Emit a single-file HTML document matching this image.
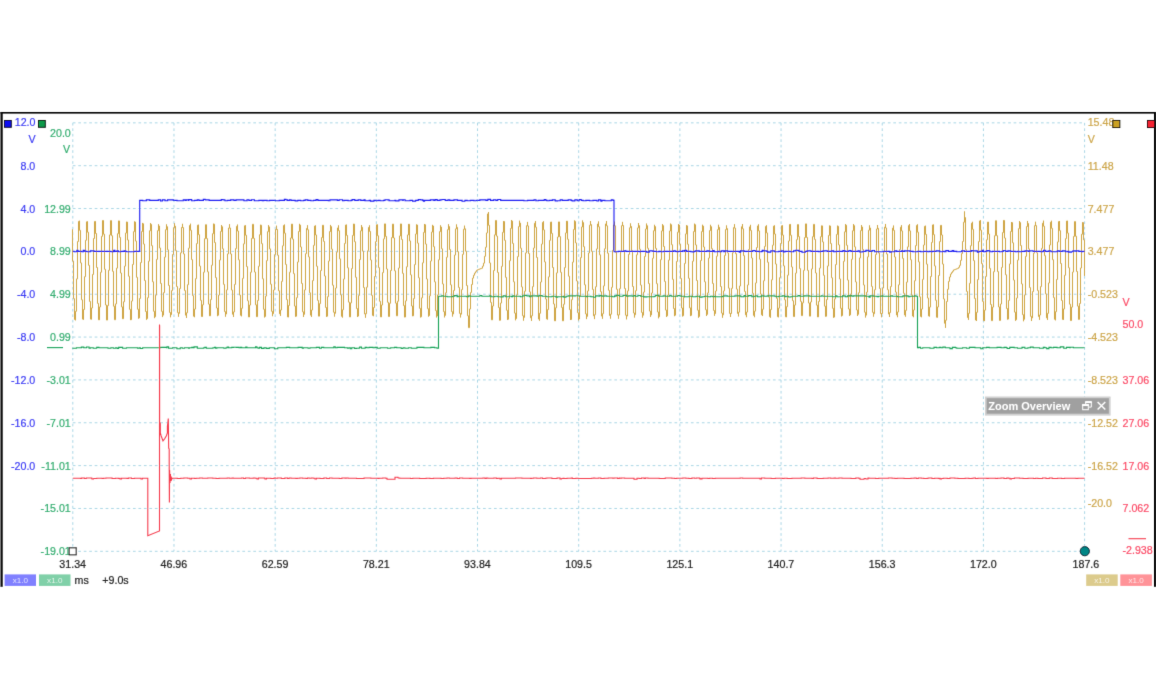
<!DOCTYPE html>
<html><head><meta charset="utf-8"><title>Scope</title>
<style>
html,body{margin:0;padding:0;background:#fff;}
body{width:1156px;height:700px;overflow:hidden;position:relative;}
svg{position:absolute;left:0;top:0;display:block;}
#wrap{position:absolute;left:0;top:0;width:1156px;height:700px;}
text{font-family:"Liberation Sans",Arial,sans-serif;}
</style></head>
<body>
<div id="wrap">
<svg width="1156" height="700" viewBox="0 0 1156 700">
<defs><filter id="soft" x="0" y="0" width="100%" height="100%" filterUnits="userSpaceOnUse"><feConvolveMatrix order="3" kernelMatrix="0.0100 0.0800 0.0100 0.0800 0.6400 0.0800 0.0100 0.0800 0.0100" edgeMode="none"/></filter></defs>
<rect width="1156" height="700" fill="#fff"/>
<g filter="url(#soft)">
<path d="M72.8 122.85V551.3M173.98 122.85V551.3M275.16 122.85V551.3M376.34 122.85V551.3M477.52 122.85V551.3M578.7 122.85V551.3M679.88 122.85V551.3M781.06 122.85V551.3M882.24 122.85V551.3M983.42 122.85V551.3M1084.6 122.85V551.3M72.8 122.85H1084.6M72.8 165.69H1084.6M72.8 208.54H1084.6M72.8 251.38H1084.6M72.8 294.23H1084.6M72.8 337.07H1084.6M72.8 379.92H1084.6M72.8 422.76H1084.6M72.8 465.61H1084.6M72.8 508.46H1084.6M72.8 551.3H1084.6" stroke="#a9d6e5" stroke-width="1" stroke-dasharray="2.7 2.77" fill="none"/>
<path d="M72.5 229.18 72.5 261.13 73.5 261.13 73.5 298.66 74.5 298.66 74.5 319.5 75.5 319.5 75.5 320.29 75.5 311.29 76.5 311.29 76.5 278.89 77.5 278.89 77.5 241.54 78.5 241.54 78.5 221.39 79.5 221.39 79.5 220.79 79.5 230.33 80.5 230.33 80.5 262.91 81.5 262.91 81.5 299.81 82.5 299.81 82.5 319.12 83.5 319.12 83.5 319.58 83.5 309.46 84.5 309.46 84.5 276.7 85.5 276.7 85.5 240.28 86.5 240.28 86.5 221.81 87.5 221.81 87.5 221.49 87.5 232.22 88.5 232.22 88.5 265.3 89.5 265.3 89.5 301.42 90.5 301.42 90.5 319.15 91.5 319.15 91.5 319.35 91.5 307.95 92.5 307.95 92.5 274.44 93.5 274.44 93.5 238.51 94.5 238.51 94.5 221.46 95.5 221.46 95.5 221.33 95.5 233.49 96.5 233.49 96.5 267.53 97.5 267.53 97.5 303.4 98.5 303.4 98.5 319.81 99.5 319.81 99.5 319.87 99.5 306.91 100.5 306.91 100.5 272.22 101.5 272.22 101.5 236.32 102.5 236.32 102.5 220.51 103.5 220.51 103.5 234.2 104.5 234.2 104.5 269.28 105.5 269.28 105.5 304.95 106.5 304.95 106.5 320.04 107.5 320.04 107.5 305.61 108.5 305.61 108.5 270.25 109.5 270.25 109.5 234.93 110.5 234.93 110.5 220.61 111.5 220.61 111.5 235.74 112.5 235.74 112.5 271.3 113.5 271.3 113.5 306.19 114.5 306.19 114.5 319.71 115.5 319.71 115.5 303.88 116.5 303.88 116.5 268.13 117.5 268.13 117.5 233.67 118.5 233.67 118.5 220.88 118.5 220.95 119.5 220.95 119.5 237.37 120.5 237.37 120.5 273.06 121.5 273.06 121.5 306.86 122.5 306.86 122.5 318.84 122.5 318.7 123.5 318.7 123.5 301.74 124.5 301.74 124.5 266.15 125.5 266.15 125.5 233.05 126.5 233.05 126.5 221.88 126.5 222.09 127.5 222.09 127.5 239.97 128.5 239.97 128.5 276.24 129.5 276.24 129.5 309.37 130.5 309.37 130.5 320.04 130.5 319.7 131.5 319.7 131.5 301.06 132.5 301.06 132.5 264.46 133.5 264.46 133.5 231.64 134.5 231.64 134.5 221.58 134.5 222.05 135.5 222.05 135.5 241.09 136.5 241.09 136.5 277.32 137.5 277.32 137.5 309.23 138.5 309.23 138.5 318.5 138.5 317.9 139.5 317.9 139.5 298.46 140.5 298.46 140.5 262.56 141.5 262.56 141.5 231.51 142.5 231.51 142.5 222.95 142.5 223.74 143.5 223.74 143.5 244.08 144.5 244.08 144.5 280.55 145.5 280.55 145.5 311.52 146.5 311.52 146.5 319.61 146.5 318.61 147.5 318.61 147.5 297.68 148.5 297.68 148.5 261.16 149.5 261.16 149.5 230.72 150.5 230.72 150.5 223.23 150.5 224.41 151.5 224.41 151.5 245.67 152.5 245.67 152.5 281.76 153.5 281.76 153.5 311.27 154.5 311.27 154.5 318.12 154.5 316.72 155.5 316.72 155.5 295.1 156.5 295.1 156.5 259.34 157.5 259.34 157.5 230.65 158.5 230.65 158.5 224.38 158.5 226.03 159.5 226.03 159.5 248 160.5 248 160.5 283.45 161.5 283.45 161.5 311.35 162.5 311.35 162.5 317.05 162.5 315.15 163.5 315.15 163.5 292.61 164.5 292.61 164.5 257.11 165.5 257.11 165.5 229.71 166.5 229.71 166.5 224.48 166.5 226.68 167.5 226.68 167.5 249.85 168.5 249.85 168.5 285.47 169.5 285.47 169.5 312.42 170.5 312.42 170.5 317.23 170.5 314.67 171.5 314.67 171.5 290.64 172.5 290.64 172.5 254.52 173.5 254.52 173.5 227.75 174.5 227.75 174.5 223.33 174.5 226.19 175.5 226.19 175.5 250.63 176.5 250.63 176.5 286.54 177.5 286.54 177.5 312.62 178.5 312.62 178.5 316.6 178.5 313.4 179.5 313.4 179.5 288.55 180.5 288.55 180.5 252.83 181.5 252.83 181.5 227.44 182.5 227.44 182.5 223.86 182.5 227.59 183.5 227.59 183.5 253.94 184.5 253.94 184.5 290.59 185.5 290.59 185.5 315.19 186.5 315.19 186.5 317.79 186.5 312.74 187.5 312.74 187.5 284.71 188.5 284.71 188.5 248.18 189.5 248.18 189.5 225.44 190.5 225.44 190.5 223.77 190.5 230.28 191.5 230.28 191.5 259.64 192.5 259.64 192.5 295.59 193.5 295.59 193.5 316.22 194.5 316.22 194.5 317.16 194.5 309.05 195.5 309.05 195.5 278.66 196.5 278.66 196.5 243.59 197.5 243.59 197.5 225.21 198.5 225.21 198.5 224.8 198.5 234.68 199.5 234.68 199.5 266.12 200.5 266.12 200.5 300.35 201.5 300.35 201.5 316.52 202.5 316.52 202.5 316.62 202.5 304.75 203.5 304.75 203.5 272.2 204.5 272.2 204.5 238.71 205.5 238.71 205.5 224.7 206.5 224.7 206.5 238.61 207.5 238.61 207.5 271.83 208.5 271.83 208.5 304.13 209.5 304.13 209.5 315.92 209.5 315.81 210.5 315.81 210.5 299.59 211.5 299.59 211.5 265.24 212.5 265.24 212.5 233.7 213.5 233.7 213.5 223.79 213.5 224.2 214.5 224.2 214.5 242.57 215.5 242.57 215.5 277.65 216.5 277.65 216.5 308.04 217.5 308.04 217.5 316.14 217.5 315.23 218.5 315.23 218.5 295.11 219.5 295.11 219.5 260.05 220.5 260.05 220.5 231.43 221.5 231.43 221.5 225.07 221.5 226.7 222.5 226.7 222.5 248.83 223.5 248.83 223.5 284.36 224.5 284.36 224.5 311.63 225.5 311.63 225.5 316.55 225.5 314 226.5 314 226.5 289.86 227.5 289.86 227.5 253.89 228.5 253.89 228.5 228.02 229.5 228.02 229.5 224.37 229.5 228.04 230.5 228.04 230.5 253.98 231.5 253.98 231.5 290.06 232.5 290.06 232.5 314.27 233.5 314.27 233.5 316.83 233.5 311.88 234.5 311.88 234.5 284.4 235.5 284.4 235.5 248.6 236.5 248.6 236.5 226.3 237.5 226.3 237.5 224.66 237.5 231.06 238.5 231.06 238.5 259.84 239.5 259.84 239.5 295.09 240.5 295.09 240.5 315.32 241.5 315.32 241.5 316.24 241.5 308.26 242.5 308.26 242.5 278.36 243.5 278.36 243.5 243.85 244.5 243.85 244.5 225.77 245.5 225.77 245.5 225.36 245.5 235.22 246.5 235.22 246.5 266.61 247.5 266.61 247.5 300.78 248.5 300.78 248.5 316.92 249.5 316.92 249.5 317.03 249.5 305.04 250.5 305.04 250.5 272.2 251.5 272.2 251.5 238.41 252.5 238.41 252.5 224.27 253.5 224.27 253.5 238.37 254.5 238.37 254.5 272.06 255.5 272.06 255.5 304.82 256.5 304.82 256.5 316.77 256.5 316.67 257.5 316.67 257.5 300.48 258.5 300.48 258.5 266.2 259.5 266.2 259.5 234.73 260.5 234.73 260.5 224.84 260.5 225.25 261.5 225.25 261.5 243.66 262.5 243.66 262.5 278.8 263.5 278.8 263.5 309.24 264.5 309.24 264.5 317.36 264.5 316.44 265.5 316.44 265.5 296.09 266.5 296.09 266.5 260.63 267.5 260.63 267.5 231.68 268.5 231.68 268.5 225.25 268.5 226.87 269.5 226.87 269.5 248.87 270.5 248.87 270.5 284.19 271.5 284.19 271.5 311.3 272.5 311.3 272.5 316.18 272.5 313.68 273.5 313.68 273.5 290 274.5 290 274.5 254.72 275.5 254.72 275.5 229.34 276.5 229.34 276.5 225.75 276.5 229.42 277.5 229.42 277.5 255.23 278.5 255.23 278.5 290.76 279.5 290.76 279.5 313.83 280.5 313.83 280.5 315.82 280.5 309.99 281.5 309.99 281.5 281.37 282.5 281.37 282.5 245.81 283.5 245.81 283.5 225.48 284.5 225.48 284.5 224.63 284.5 233.19 285.5 233.19 285.5 264.4 286.5 264.4 286.5 299.64 287.5 299.64 287.5 316.94 288.5 316.94 288.5 317.11 288.5 305.44 289.5 305.44 289.5 272.21 290.5 272.21 290.5 237.98 291.5 237.98 291.5 224.11 292.5 224.11 292.5 239.16 293.5 239.16 293.5 273.66 294.5 273.66 294.5 306.09 295.5 306.09 295.5 316.58 295.5 316.22 296.5 316.22 296.5 297.68 297.5 297.68 297.5 262.02 298.5 262.02 298.5 231.48 299.5 231.48 299.5 223.89 299.5 225.11 300.5 225.11 300.5 246.97 301.5 246.97 301.5 283.45 302.5 283.45 302.5 311.79 303.5 311.79 303.5 316.94 303.5 314.36 304.5 314.36 304.5 289.88 305.5 289.88 305.5 253.7 306.5 253.7 306.5 228.4 307.5 228.4 307.5 225.35 307.5 229.75 308.5 229.75 308.5 256.86 309.5 256.86 309.5 292.81 310.5 292.81 310.5 315.18 311.5 315.18 311.5 316.75 311.5 310.03 312.5 310.03 312.5 280.62 313.5 280.62 313.5 245.3 314.5 245.3 314.5 226.1 315.5 226.1 315.5 225.56 315.5 234.96 316.5 234.96 316.5 266.23 317.5 266.23 317.5 300.4 318.5 300.4 318.5 316.17 319.5 316.17 319.5 303.64 320.5 303.64 320.5 270.57 321.5 270.57 321.5 237.58 322.5 237.58 322.5 225.19 322.5 225.26 323.5 225.26 323.5 241.39 324.5 241.39 324.5 275.99 325.5 275.99 325.5 307.46 326.5 307.46 326.5 316.77 326.5 316.19 327.5 316.19 327.5 296.67 328.5 296.67 328.5 261.06 329.5 261.06 329.5 231.57 330.5 231.57 330.5 224.96 330.5 226.6 331.5 226.6 331.5 249.18 332.5 249.18 332.5 285.21 333.5 285.21 333.5 312.21 334.5 312.21 334.5 316.49 334.5 313.35 335.5 313.35 335.5 288.05 336.5 288.05 336.5 252.11 337.5 252.11 337.5 227.95 338.5 227.95 338.5 225.48 338.5 230.7 339.5 230.7 339.5 258.86 340.5 258.86 340.5 294.9 341.5 294.9 341.5 316.33 342.5 316.33 342.5 317.48 342.5 309.72 343.5 309.72 343.5 279.04 344.5 279.04 344.5 243.42 345.5 243.42 345.5 225.07 346.5 225.07 346.5 224.75 346.5 235.39 347.5 235.39 347.5 267.82 348.5 267.82 348.5 302.13 349.5 302.13 349.5 316.92 350.5 316.92 350.5 302.84 351.5 302.84 351.5 268.54 352.5 268.54 352.5 235.41 353.5 235.41 353.5 223.94 353.5 224.13 354.5 224.13 354.5 241.74 355.5 241.74 355.5 277.27 356.5 277.27 356.5 308.55 357.5 308.55 357.5 317 357.5 316.09 358.5 316.09 358.5 295.42 359.5 295.42 359.5 259.55 360.5 259.55 360.5 230.85 361.5 230.85 361.5 225.12 361.5 227.24 362.5 227.24 362.5 251.11 363.5 251.11 363.5 287.59 364.5 287.59 364.5 313.94 365.5 313.94 365.5 317.59 365.5 313.73 366.5 313.73 366.5 287.17 367.5 287.17 367.5 250.84 368.5 250.84 368.5 227.41 369.5 227.41 369.5 225.46 369.5 231.4 370.5 231.4 370.5 260 371.5 260 371.5 295.34 372.5 295.34 372.5 315.38 373.5 315.38 373.5 316.16 373.5 307.52 374.5 307.52 374.5 276.5 375.5 276.5 375.5 241.66 376.5 241.66 376.5 224.72 377.5 224.72 377.5 224.58 377.5 235.78 378.5 235.78 378.5 267.6 379.5 267.6 379.5 301.29 380.5 301.29 380.5 316.86 381.5 316.86 381.5 316.94 381.5 304.97 382.5 304.97 382.5 272.57 383.5 272.57 383.5 238.87 384.5 238.87 384.5 223.88 385.5 223.88 385.5 236.43 386.5 236.43 386.5 269.02 387.5 269.02 387.5 302.3 388.5 302.3 388.5 316.52 389.5 316.52 389.5 303.29 390.5 303.29 390.5 270.5 391.5 270.5 391.5 237.61 392.5 237.61 392.5 224.14 393.5 224.14 393.5 237.98 394.5 237.98 394.5 270.81 395.5 270.81 395.5 303.15 396.5 303.15 396.5 315.82 397.5 315.82 397.5 301.24 398.5 301.24 398.5 268.06 399.5 268.06 399.5 235.95 400.5 235.95 400.5 223.92 400.5 223.98 401.5 223.98 401.5 239.46 402.5 239.46 402.5 273.37 403.5 273.37 403.5 305.6 404.5 305.6 404.5 317.14 404.5 317.02 405.5 317.02 405.5 300.87 406.5 300.87 406.5 266.75 407.5 266.75 407.5 234.92 408.5 234.92 408.5 224.08 408.5 224.26 409.5 224.26 409.5 240.91 410.5 240.91 410.5 274.87 411.5 274.87 411.5 305.98 412.5 305.98 412.5 316.09 412.5 315.79 413.5 315.79 413.5 298.57 414.5 298.57 414.5 264.6 415.5 264.6 415.5 234.03 416.5 234.03 416.5 224.58 416.5 225.01 417.5 225.01 417.5 243.14 418.5 243.14 418.5 277.77 419.5 277.77 419.5 308.37 420.5 308.37 420.5 317.33 420.5 316.76 421.5 316.76 421.5 297.85 422.5 297.85 422.5 262.8 423.5 262.8 423.5 232.41 424.5 232.41 424.5 223.97 424.5 224.71 425.5 224.71 425.5 244.09 426.5 244.09 426.5 278.99 427.5 278.99 427.5 308.69 428.5 308.69 428.5 316.5 428.5 315.57 429.5 315.57 429.5 295.75 430.5 295.75 430.5 261.06 431.5 261.06 431.5 232.09 432.5 232.09 432.5 224.91 432.5 226.04 433.5 226.04 433.5 246.69 434.5 246.69 434.5 281.84 435.5 281.84 435.5 310.64 436.5 310.64 436.5 317.36 436.5 316 437.5 316 437.5 294.86 438.5 294.86 438.5 259.8 439.5 259.8 439.5 231.62 440.5 231.62 440.5 225.44 440.5 227.05 441.5 227.05 441.5 248.79 442.5 248.79 442.5 283.94 443.5 283.94 443.5 311.63 444.5 311.63 444.5 317.31 444.5 315.42 445.5 315.42 445.5 292.82 446.5 292.82 446.5 257.18 447.5 257.18 447.5 229.65 448.5 229.65 448.5 224.37 448.5 226.54 449.5 226.54 449.5 249.51 450.5 249.51 450.5 284.87 451.5 284.87 451.5 311.64 452.5 311.64 452.5 316.43 452.5 313.94 453.5 313.94 453.5 290.44 454.5 290.44 454.5 255.08 455.5 255.08 455.5 228.87 456.5 228.87 456.5 224.53 456.5 227.37 457.5 227.37 457.5 251.68 458.5 251.68 458.5 287.43 459.5 287.43 459.5 313.39 460.5 313.39 460.5 317.36 460.5 314.2 461.5 314.2 461.5 289.65 462.5 289.65 462.5 254.35 463.5 254.35 463.5 229.25 464.5 229.25 464.5 225.72 464.5 228.79 465.5 228.79 465.5 251.21 466.5 251.21 466.5 285.56 467.5 285.56 467.5 315.77 468.5 315.77 468.5 327.7 469.5 327.7 469.5 308.98 470.5 308.98 470.5 292.42 471.5 292.42 471.5 284.53 472.5 284.53 472.5 278.13 473.5 278.13 473.5 275.24 474.5 275.24 474.5 273.12 475.5 273.12 475.5 271.76 476.5 271.76 476.5 270.41 477.5 270.41 477.5 269.73 478.5 269.73 478.5 269.35 479.5 269.35 479.5 268.97 480.5 268.97 480.5 268.58 481.5 268.58 481.5 268.2 482.5 268.2 482.5 266.14 483.5 266.14 483.5 263.13 484.5 263.13 484.5 256.29 485.5 256.29 485.5 247.21 486.5 247.21 486.5 232.9 487.5 232.9 487.5 213.9 488.5 213.9 488.5 212.08 488.5 225.31 489.5 225.31 489.5 262.94 490.5 262.94 490.5 302.37 491.5 302.37 491.5 319.83 492.5 319.83 492.5 305.97 493.5 305.97 493.5 270.52 494.5 270.52 494.5 234.85 495.5 234.85 495.5 220.48 496.5 220.48 496.5 236.15 497.5 236.15 497.5 272.48 498.5 272.48 498.5 307.57 499.5 307.57 499.5 320.36 499.5 320.26 500.5 320.26 500.5 303.02 501.5 303.02 501.5 266.33 502.5 266.33 502.5 232.33 503.5 232.33 503.5 221.2 503.5 221.51 504.5 221.51 504.5 240.31 505.5 240.31 505.5 277.35 506.5 277.35 506.5 310.29 507.5 310.29 507.5 319.89 507.5 319.26 508.5 319.26 508.5 298.62 509.5 298.62 509.5 260.71 510.5 260.71 510.5 228.38 511.5 228.38 511.5 220.03 511.5 221.13 512.5 221.13 512.5 243.4 513.5 243.4 513.5 281.79 514.5 281.79 514.5 313.14 515.5 313.14 515.5 320.22 515.5 318.56 516.5 318.56 516.5 294.95 517.5 294.95 517.5 256.59 518.5 256.59 518.5 226.61 519.5 226.61 519.5 220.78 519.5 223.1 520.5 223.1 520.5 248.24 521.5 248.24 521.5 286.88 522.5 286.88 522.5 315.73 523.5 315.73 523.5 320.5 523.5 317.42 524.5 317.42 524.5 291.2 525.5 291.2 525.5 252.93 526.5 252.93 526.5 225.7 527.5 225.7 527.5 221.94 527.5 225.92 528.5 225.92 528.5 253.53 529.5 253.53 529.5 291.88 530.5 291.88 530.5 317.84 531.5 317.84 531.5 320.75 531.5 315.73 532.5 315.73 532.5 286.61 533.5 286.61 533.5 248.03 534.5 248.03 534.5 223.25 535.5 223.25 535.5 221.1 535.5 227.2 536.5 227.2 536.5 257.47 537.5 257.47 537.5 295.79 538.5 295.79 538.5 319.07 539.5 319.07 539.5 320.58 539.5 313.28 540.5 313.28 540.5 282 541.5 282 541.5 244.08 542.5 244.08 542.5 222.4 543.5 222.4 543.5 221.42 543.5 229.93 544.5 229.93 544.5 261.89 545.5 261.89 545.5 299 546.5 299 546.5 318.88 547.5 318.88 547.5 319.43 547.5 309.6 548.5 309.6 548.5 276.83 549.5 276.83 549.5 240.36 550.5 240.36 550.5 222.16 551.5 222.16 551.5 221.92 551.5 233.38 552.5 233.38 552.5 267.51 553.5 267.51 553.5 303.97 554.5 303.97 554.5 320.79 555.5 320.79 555.5 320.85 555.5 307.8 556.5 307.8 556.5 272.86 557.5 272.86 557.5 237.02 558.5 237.02 558.5 221.9 559.5 221.9 559.5 236.61 560.5 236.61 560.5 272.29 561.5 272.29 561.5 307.41 562.5 307.41 562.5 320.83 563.5 320.8 563.5 304.24 564.5 304.24 564.5 267.58 565.5 267.58 565.5 232.95 566.5 232.95 566.5 221.02 566.5 221.21 567.5 221.21 567.5 239.29 568.5 239.29 568.5 276.19 569.5 276.19 569.5 309.65 570.5 309.65 570.5 319.98 570.5 319.5 571.5 319.5 571.5 299.7 572.5 299.7 572.5 262.14 573.5 262.14 573.5 229.47 574.5 229.47 574.5 220.52 574.5 221.4 575.5 221.4 575.5 242.86 576.5 242.86 576.5 280.95 577.5 280.95 577.5 312.7 578.5 312.7 578.5 320.34 578.5 318.97 579.5 318.97 579.5 295.98 580.5 295.98 580.5 257.61 581.5 257.61 581.5 226.98 582.5 226.98 582.5 220.58 582.5 222.55 583.5 222.55 583.5 246.71 584.5 246.71 584.5 284.81 585.5 284.81 585.5 313.88 586.5 313.88 586.5 319.09 586.5 316.39 587.5 316.39 587.5 290.95 588.5 290.95 588.5 252.91 589.5 252.91 589.5 225.22 590.5 225.22 590.5 221.05 590.5 224.57 591.5 224.57 591.5 251.36 592.5 251.36 592.5 289.43 593.5 289.43 593.5 315.83 594.5 315.83 594.5 319.08 594.5 314.66 595.5 314.66 595.5 286.73 596.5 286.73 596.5 248.91 597.5 248.91 597.5 224 598.5 224 598.5 221.54 598.5 226.78 599.5 226.78 599.5 254.83 600.5 254.83 600.5 291.74 601.5 291.74 601.5 316.08 602.5 316.08 602.5 318.65 602.5 313.69 603.5 313.69 603.5 285.88 604.5 285.88 604.5 248.79 605.5 248.79 605.5 223.96 606.5 223.96 606.5 221.16 606.5 225.8 607.5 225.8 607.5 253.23 608.5 253.23 608.5 290.31 609.5 290.31 609.5 315.51 610.5 315.51 610.5 318.53 610.5 314.21 611.5 314.21 611.5 287.3 612.5 287.3 612.5 250.41 613.5 250.41 613.5 224.97 614.5 224.97 614.5 221.71 614.5 225.76 615.5 225.76 615.5 252.34 616.5 252.34 616.5 289.27 617.5 289.27 617.5 315.1 618.5 315.1 618.5 318.63 618.5 314.85 619.5 314.85 619.5 288.7 620.5 288.7 620.5 251.85 621.5 251.85 621.5 225.7 622.5 225.7 622.5 221.92 622.5 225.46 623.5 225.46 623.5 251.41 624.5 251.41 624.5 288.51 625.5 288.51 625.5 315.2 626.5 315.2 626.5 319.27 626.5 316.04 627.5 316.04 627.5 290.88 628.5 290.88 628.5 254.39 629.5 254.39 629.5 227.77 630.5 227.77 630.5 223.5 630.5 226.41 631.5 226.41 631.5 250.72 632.5 250.72 632.5 286.5 633.5 286.5 633.5 312.96 634.5 312.96 634.5 317.44 634.5 314.73 635.5 314.73 635.5 290.7 636.5 290.7 636.5 254.81 637.5 254.81 637.5 227.9 638.5 227.9 638.5 223.11 638.5 225.61 639.5 225.61 639.5 249.26 640.5 249.26 640.5 285.14 641.5 285.14 641.5 312.4 642.5 312.4 642.5 317.49 642.5 315.22 643.5 315.22 643.5 292.08 644.5 292.08 644.5 256.44 645.5 256.44 645.5 229.01 646.5 229.01 646.5 223.65 646.5 225.69 647.5 225.69 647.5 248.26 648.5 248.26 648.5 283.56 649.5 283.56 649.5 311.1 650.5 311.1 650.5 316.73 650.5 314.9 651.5 314.9 651.5 293.01 652.5 293.01 652.5 258.22 653.5 258.22 653.5 230.73 654.5 230.73 654.5 224.85 654.5 226.54 655.5 226.54 655.5 248.39 656.5 248.39 656.5 283.68 657.5 283.68 657.5 311.93 658.5 311.93 658.5 318.24 658.5 316.71 659.5 316.71 659.5 295.13 660.5 295.13 660.5 259.69 661.5 259.69 661.5 230.96 662.5 230.96 662.5 224.28 662.5 225.62 663.5 225.62 663.5 246.52 664.5 246.52 664.5 281.43 665.5 281.43 665.5 310.08 666.5 310.08 666.5 317 666.5 315.83 667.5 315.83 667.5 295.2 668.5 295.2 668.5 260.14 669.5 260.14 669.5 231 670.5 231 670.5 223.66 670.5 224.7 671.5 224.7 671.5 244.71 672.5 244.71 672.5 279.35 673.5 279.35 673.5 308.49 674.5 308.49 674.5 316.13 674.5 315.22 675.5 315.22 675.5 295.75 676.5 295.75 676.5 261.43 677.5 261.43 677.5 232.21 678.5 232.21 678.5 224.27 678.5 225.05 679.5 225.05 679.5 244.15 680.5 244.15 680.5 278.45 681.5 278.45 681.5 308.01 682.5 308.01 682.5 316.34 682.5 315.69 683.5 315.69 683.5 297.22 684.5 297.22 684.5 263.42 685.5 263.42 685.5 233.92 686.5 233.92 686.5 225.32 686.5 225.87 687.5 225.87 687.5 244.25 688.5 244.25 688.5 278.31 689.5 278.31 689.5 307.85 690.5 307.85 690.5 316.07 690.5 315.34 691.5 315.34 691.5 296.01 692.5 296.01 692.5 261.21 693.5 261.21 693.5 231.56 694.5 231.56 694.5 223.74 694.5 224.68 695.5 224.68 695.5 244.95 696.5 244.95 696.5 280.49 697.5 280.49 697.5 310.2 698.5 310.2 698.5 317.59 698.5 316.47 699.5 316.47 699.5 295.81 700.5 295.81 700.5 260.54 701.5 260.54 701.5 231.59 702.5 231.59 702.5 224.8 702.5 226.12 703.5 226.12 703.5 247.01 704.5 247.01 704.5 281.77 705.5 281.77 705.5 309.77 706.5 309.77 706.5 315.96 706.5 314.39 707.5 314.39 707.5 292.92 708.5 292.92 708.5 258.09 709.5 258.09 709.5 230.56 710.5 230.56 710.5 224.85 710.5 226.66 711.5 226.66 711.5 248.65 712.5 248.65 712.5 283.46 713.5 283.46 713.5 310.45 714.5 310.45 714.5 315.69 714.5 313.6 715.5 313.6 715.5 291.04 716.5 291.04 716.5 256.16 717.5 256.16 717.5 229.64 718.5 229.64 718.5 224.82 718.5 227.27 719.5 227.27 719.5 250.86 720.5 250.86 720.5 286.53 721.5 286.53 721.5 313.1 722.5 313.1 722.5 317.58 722.5 314.84 723.5 314.84 723.5 290.87 724.5 290.87 724.5 255.43 725.5 255.43 725.5 229.55 726.5 229.55 726.5 225.52 726.5 228.57 727.5 228.57 727.5 252.94 728.5 252.94 728.5 288.17 729.5 288.17 729.5 313.38 730.5 313.38 730.5 317.01 730.5 313.55 731.5 313.55 731.5 288.33 732.5 288.33 732.5 252.63 733.5 252.63 733.5 227.62 734.5 227.62 734.5 224.31 734.5 228.12 735.5 228.12 735.5 253.69 736.5 253.69 736.5 289.12 737.5 289.12 737.5 313.41 738.5 313.41 738.5 316.33 738.5 312.13 739.5 312.13 739.5 286 740.5 286 740.5 250.53 741.5 250.53 741.5 226.74 742.5 226.74 742.5 224.13 742.5 228.8 743.5 228.8 743.5 255.65 744.5 255.65 744.5 291.4 745.5 291.4 745.5 314.83 746.5 314.83 746.5 317.15 746.5 312.08 747.5 312.08 747.5 284.95 748.5 284.95 748.5 249.55 749.5 249.55 749.5 226.87 750.5 226.87 750.5 224.88 750.5 230.38 751.5 230.38 751.5 257.99 752.5 257.99 752.5 293.33 753.5 293.33 753.5 315.42 754.5 315.42 754.5 317.16 754.5 311.15 755.5 311.15 755.5 282.95 756.5 282.95 756.5 247.55 757.5 247.55 757.5 225.95 758.5 225.95 758.5 224.46 758.5 230.88 759.5 230.88 759.5 259.19 760.5 259.19 760.5 294.06 761.5 294.06 761.5 314.81 762.5 314.81 762.5 316.03 762.5 309.2 763.5 309.2 763.5 280.76 764.5 280.76 764.5 246.37 765.5 246.37 765.5 226.44 766.5 226.44 766.5 225.43 766.5 232.91 767.5 232.91 767.5 262.25 768.5 262.25 768.5 297.08 769.5 297.08 769.5 316.73 770.5 316.73 770.5 317.57 770.5 309.55 771.5 309.55 771.5 279.82 772.5 279.82 772.5 245.18 773.5 245.18 773.5 226.17 774.5 226.17 774.5 225.52 774.5 234.04 775.5 234.04 775.5 264.05 776.5 264.05 776.5 298.4 777.5 298.4 777.5 316.7 778.5 316.7 778.5 317.21 778.5 308.1 779.5 308.1 779.5 277.68 780.5 277.68 780.5 243.49 781.5 243.49 781.5 225.81 782.5 225.81 782.5 225.44 782.5 235.12 783.5 235.12 783.5 265.86 784.5 265.86 784.5 299.81 785.5 299.81 785.5 316.82 786.5 316.82 786.5 317.07 786.5 306.66 787.5 306.66 787.5 275.16 788.5 275.16 788.5 240.99 789.5 240.99 789.5 224.43 790.5 224.43 790.5 224.26 790.5 235.24 791.5 235.24 791.5 266.94 792.5 266.94 792.5 300.72 793.5 300.72 793.5 316.54 794.5 316.54 794.5 316.64 794.5 305.05 795.5 305.05 795.5 273.1 796.5 273.1 796.5 239.66 797.5 239.66 797.5 224.56 798.5 224.56 798.5 236.62 799.5 236.62 799.5 268.54 800.5 268.54 800.5 301.37 801.5 301.37 801.5 315.65 802.5 315.65 802.5 302.8 803.5 302.8 803.5 270.35 804.5 270.35 804.5 237.55 805.5 237.55 805.5 223.86 806.5 223.86 806.5 237.46 807.5 237.46 807.5 270.38 808.5 270.38 808.5 303.07 809.5 303.07 809.5 316.15 810.5 316.15 810.5 301.93 811.5 301.93 811.5 268.91 812.5 268.91 812.5 236.67 813.5 236.67 813.5 224.33 814.5 224.35 814.5 239.39 815.5 239.39 815.5 272.97 816.5 272.97 816.5 305.17 817.5 305.17 817.5 316.98 817.5 316.9 818.5 316.9 818.5 301.43 819.5 301.43 819.5 268.11 820.5 268.11 820.5 236.71 821.5 236.71 821.5 225.72 821.5 225.86 822.5 225.86 822.5 241.91 823.5 241.91 823.5 275.28 824.5 275.28 824.5 306.17 825.5 306.17 825.5 316.48 825.5 316.26 826.5 316.26 826.5 299.55 827.5 299.55 827.5 265.96 828.5 265.96 828.5 235.41 829.5 235.41 829.5 225.68 829.5 226.02 830.5 226.02 830.5 243.57 831.5 243.57 831.5 277.77 832.5 277.77 832.5 308.31 833.5 308.31 833.5 317.57 833.5 317.1 834.5 317.1 834.5 298.91 835.5 298.91 835.5 264.55 836.5 264.55 836.5 234.4 837.5 234.4 837.5 225.73 837.5 226.33 838.5 226.33 838.5 244.89 839.5 244.89 839.5 278.95 840.5 278.95 840.5 308.31 841.5 308.31 841.5 316.33 841.5 315.53 842.5 315.53 842.5 296.04 843.5 296.04 843.5 261.27 844.5 261.27 844.5 231.85 845.5 231.85 845.5 224.24 845.5 225.23 846.5 225.23 846.5 245.27 847.5 245.27 847.5 280.08 848.5 280.08 848.5 308.99 849.5 308.99 849.5 316.03 849.5 314.86 850.5 314.86 850.5 294.19 851.5 294.19 851.5 259.25 852.5 259.25 852.5 230.75 853.5 230.75 853.5 224.2 853.5 225.62 854.5 225.62 854.5 246.87 855.5 246.87 855.5 281.91 856.5 281.91 856.5 309.94 857.5 309.94 857.5 316.01 857.5 314.35 858.5 314.35 858.5 292.71 859.5 292.71 859.5 257.91 860.5 257.91 860.5 230.6 861.5 230.6 861.5 225.07 861.5 227 862.5 227 862.5 249.55 863.5 249.55 863.5 284.96 864.5 284.96 864.5 312.22 865.5 312.22 865.5 317.39 865.5 315.17 866.5 315.17 866.5 292.16 867.5 292.16 867.5 256.85 868.5 256.85 868.5 230.2 869.5 230.2 869.5 225.48 869.5 227.99 870.5 227.99 870.5 251.35 871.5 251.35 871.5 286.38 872.5 286.38 872.5 312.3 873.5 312.3 873.5 316.54 873.5 313.71 874.5 313.71 874.5 289.71 875.5 289.71 875.5 254.51 876.5 254.51 876.5 228.99 877.5 228.99 877.5 225.11 877.5 228.32 878.5 228.32 878.5 253.03 879.5 253.03 879.5 288.49 880.5 288.49 880.5 313.67 881.5 313.67 881.5 317.2 881.5 313.58 882.5 313.58 882.5 288.03 883.5 288.03 883.5 252.13 884.5 252.13 884.5 227.18 885.5 227.18 885.5 223.98 885.5 227.96 886.5 227.96 886.5 253.96 887.5 253.96 887.5 289.74 888.5 289.74 888.5 314.07 889.5 314.07 889.5 316.91 889.5 312.6 890.5 312.6 890.5 286.56 891.5 286.56 891.5 251.45 892.5 251.45 892.5 228.1 893.5 228.1 893.5 225.62 893.5 230.37 894.5 230.37 894.5 256.97 895.5 256.97 895.5 292.12 896.5 292.12 896.5 314.98 897.5 314.98 897.5 317.16 897.5 311.96 898.5 311.96 898.5 284.79 899.5 284.79 899.5 249.57 900.5 249.57 900.5 227.21 901.5 227.21 901.5 225.32 901.5 230.92 902.5 230.92 902.5 258.38 903.5 258.38 903.5 293.28 904.5 293.28 904.5 314.93 905.5 314.93 905.5 316.56 905.5 310.39 906.5 310.39 906.5 282.13 907.5 282.13 907.5 246.88 908.5 246.88 908.5 225.56 909.5 225.56 909.5 224.16 909.5 230.86 910.5 230.86 910.5 259.77 911.5 259.77 911.5 295.14 912.5 295.14 912.5 315.99 913.5 315.99 913.5 317.16 913.5 309.98 914.5 309.98 914.5 280.74 915.5 280.74 915.5 245.61 916.5 245.61 916.5 225.44 917.5 225.44 917.5 224.47 917.5 232.19 918.5 232.19 918.5 261.87 919.5 261.87 919.5 296.86 920.5 296.86 920.5 316.42 921.5 316.42 921.5 317.2 921.5 309.04 922.5 309.04 922.5 279.37 923.5 279.37 923.5 245.01 924.5 245.01 924.5 226.35 925.5 226.35 925.5 225.77 925.5 234.38 926.5 234.38 926.5 264.18 927.5 264.18 927.5 298.06 928.5 298.06 928.5 315.94 929.5 315.94 929.5 316.39 929.5 307.07 930.5 307.07 930.5 276.52 931.5 276.52 931.5 242.39 932.5 242.39 932.5 224.94 933.5 224.94 933.5 224.61 933.5 234.63 934.5 234.63 934.5 265.92 935.5 265.92 935.5 300.26 936.5 300.26 936.5 317.26 937.5 317.26 937.5 317.47 937.5 306.93 938.5 306.93 938.5 275.5 939.5 275.5 939.5 241.62 940.5 241.62 940.5 225.39 941.5 225.39 941.5 225.25 941.5 235.03 942.5 235.03 942.5 264.08 943.5 264.08 943.5 298.93 944.5 298.93 944.5 323.27 945.5 323.27 945.5 327.7 945.5 320.21 946.5 320.21 946.5 301.49 947.5 301.49 947.5 289.26 948.5 289.26 948.5 281.37 949.5 281.37 949.5 276.98 950.5 276.98 950.5 274.09 951.5 274.09 951.5 272.58 952.5 272.58 952.5 271.22 953.5 271.22 953.5 269.96 954.5 269.96 954.5 269.58 955.5 269.58 955.5 269.2 956.5 269.2 956.5 268.81 957.5 268.81 957.5 268.43 958.5 268.43 958.5 267.38 959.5 267.38 959.5 265.32 960.5 265.32 960.5 260.39 961.5 260.39 961.5 253.55 962.5 253.55 962.5 241.48 963.5 241.48 963.5 222.2 964.5 222.2 964.5 211.5 964.5 217.54 965.5 217.54 965.5 249.7 966.5 249.7 966.5 291.4 967.5 291.4 967.5 317.62 968.5 317.62 968.5 319.69 968.5 313.3 969.5 313.3 969.5 283.27 970.5 283.27 970.5 245.73 971.5 245.73 971.5 223.2 972.5 223.2 972.5 221.83 972.5 229.31 973.5 229.31 973.5 260.65 974.5 260.65 974.5 298.45 975.5 298.45 975.5 320.03 976.5 320.03 976.5 321.01 976.5 312.31 977.5 312.31 977.5 279.62 978.5 279.62 978.5 241.55 979.5 241.55 979.5 220.94 980.5 220.94 980.5 220.32 980.5 230.16 981.5 230.16 981.5 263.68 982.5 263.68 982.5 301.4 983.5 301.4 983.5 320.69 984.5 320.69 984.5 321.04 984.5 310.15 985.5 310.15 985.5 276.43 986.5 276.43 986.5 239.75 987.5 239.75 987.5 222.13 988.5 222.13 988.5 221.98 988.5 234.09 989.5 234.09 989.5 268.39 990.5 268.39 990.5 304.46 991.5 304.46 991.5 320.66 992.5 320.66 992.5 307.1 993.5 307.1 993.5 271.71 994.5 271.71 994.5 235.72 995.5 235.72 995.5 220.72 996.5 220.72 996.5 235.68 997.5 235.68 997.5 271.59 998.5 271.59 998.5 306.9 999.5 306.9 999.5 320.46 1000.5 320.44 1000.5 304 1001.5 304 1001.5 267.4 1002.5 267.4 1002.5 232.59 1003.5 232.59 1003.5 220.3 1003.5 220.45 1004.5 220.45 1004.5 238.08 1005.5 238.08 1005.5 274.76 1006.5 274.76 1006.5 308.5 1007.5 308.5 1007.5 319.39 1007.5 319.05 1008.5 319.05 1008.5 300.41 1009.5 300.41 1009.5 263.94 1010.5 263.94 1010.5 231.52 1011.5 231.52 1011.5 222.01 1011.5 222.61 1012.5 222.61 1012.5 242.8 1013.5 242.8 1013.5 280.1 1014.5 280.1 1014.5 312.13 1015.5 312.13 1015.5 320.65 1015.5 319.67 1016.5 319.67 1016.5 298.02 1017.5 298.02 1017.5 260.09 1018.5 260.09 1018.5 228.64 1019.5 228.64 1019.5 221.14 1019.5 222.54 1020.5 222.54 1020.5 245.57 1021.5 245.57 1021.5 283.95 1022.5 283.95 1022.5 314.66 1023.5 314.66 1023.5 321.19 1023.5 319.27 1024.5 319.27 1024.5 294.98 1025.5 294.98 1025.5 256.36 1026.5 256.36 1026.5 226.57 1027.5 226.57 1027.5 220.97 1027.5 223.48 1028.5 223.48 1028.5 248.91 1029.5 248.91 1029.5 287.6 1030.5 287.6 1030.5 316.33 1031.5 316.33 1031.5 321.02 1031.5 317.9 1032.5 317.9 1032.5 291.54 1033.5 291.54 1033.5 253.12 1034.5 253.12 1034.5 225.67 1035.5 225.67 1035.5 221.8 1035.5 225.62 1036.5 225.62 1036.5 252.69 1037.5 252.69 1037.5 290.58 1038.5 290.58 1038.5 316.57 1039.5 316.57 1039.5 319.66 1039.5 315.01 1040.5 315.01 1040.5 286.6 1041.5 286.6 1041.5 248.35 1042.5 248.35 1042.5 223.2 1043.5 223.2 1043.5 220.73 1043.5 226.25 1044.5 226.25 1044.5 255.69 1045.5 255.69 1045.5 293.86 1046.5 293.86 1046.5 317.86 1047.5 317.86 1047.5 319.76 1047.5 313.3 1048.5 313.3 1048.5 282.93 1049.5 282.93 1049.5 244.97 1050.5 244.97 1050.5 222.2 1051.5 222.2 1051.5 220.81 1051.5 228.31 1052.5 228.31 1052.5 259.74 1053.5 259.74 1053.5 297.64 1054.5 297.64 1054.5 319.28 1055.5 319.28 1055.5 320.26 1055.5 311.68 1056.5 311.68 1056.5 279.45 1057.5 279.45 1057.5 241.91 1058.5 241.91 1058.5 221.59 1059.5 221.59 1059.5 220.99 1059.5 230.64 1060.5 230.64 1060.5 263.52 1061.5 263.52 1061.5 300.52 1062.5 300.52 1062.5 319.44 1063.5 319.44 1063.5 319.78 1063.5 308.91 1064.5 308.91 1064.5 275.25 1065.5 275.25 1065.5 238.64 1066.5 238.64 1066.5 221.05 1067.5 221.05 1067.5 220.9 1067.5 233.13 1068.5 233.13 1068.5 267.77 1069.5 267.77 1069.5 304.19 1070.5 304.19 1070.5 320.55 1071.5 320.55 1071.5 307.12 1072.5 307.12 1072.5 272.07 1073.5 272.07 1073.5 236.42 1074.5 236.42 1074.5 221.57 1075.5 221.57 1075.5 236.25 1076.5 236.25 1076.5 271.48 1077.5 271.48 1077.5 306.13 1078.5 306.13 1078.5 319.43 1079.5 319.41 1079.5 303.48 1080.5 303.48 1080.5 267.99 1081.5 267.99 1081.5 234.24 1082.5 234.24 1082.5 222.33 1082.5 222.48 1083.5 222.48 1083.5 239.86 1084.5 239.86 1084.5 276.04" stroke="#cfa543" stroke-width="1" fill="none" stroke-linejoin="miter"/>
<path d="M72.8 347.8H72.8V348.25H73.85V347.8H73.85V348.25H76.41V347.8H76.41V347.8H78.94V347.8H78.94V347.8H80.28V347.8H81.38V347.08H83.78V347.8H83.78V347.8H86.55V347.8H86.55V347H89.08V347.8H89.08V348.25H90.33V347.8H90.33V347.8H91.45V347.8H91.45V347.8H93.26V347.8H93.26V348.25H96.72V347.8H96.72V347.35H98.94V347.8H98.94V347.8H102.04V347.8H102.04V347.8H103.88V347.8H103.88V347.8H106.15V347.8H106.15V347.8H107.96V347.8H107.96V348.25H110.86V347.8H110.86V347.8H112.11V347.8H112.11V347.8H113.31V347.8H113.31V348.25H115.67V347.8H117.14V348.53H118.64V347.8H118.64V347.35H122.62V347.8H122.62V348.25H126.4V347.8H126.4V347.8H129.26V347.8H129.26V347.8H131.85V347.8H131.85V347.8H135.66V347.8H135.66V347.8H137.45V347.8H137.45V348.25H139.05V347.8H140.32V348.55H142.65V347.8H142.65V347.8H145.54V347.8H145.54V347.8H147.41V347.8H147.41V347.8H149.22V347.8H149.22V347.8H153.21V347.8H153.21V347.8H154.25V347.8H154.25V347.8H156.79V347.8H156.79V347.8H160.6V347.8H160.6V347.35H163.57V347.8H163.57V347.35H166.54V347.8H166.97V346.86H168.59V347.8H168.59V348.25H172.5V347.8H172.5V347.8H175.57V347.8H176.92V348.76H180.28V347.8H180.28V347.8H182.3V347.8H182.3V348.25H184.52V347.8H184.52V347.8H188.46V347.8H188.46V348.25H189.51V347.8H189.51V347.8H191.8V347.8H191.8V347.35H193.05V347.8H194.09V346.88H197.33V347.8H197.33V348.25H200.94V347.8H200.94V348.25H203.73V347.8H203.73V347.8H204.87V347.8H204.87V347.35H206.34V347.8H206.34V348.25H207.35V347.8H207.35V348.25H211.24V347.8H211.24V348.25H212.97V347.8H212.97V347.8H214.63V347.8H214.63V347.35H215.63V347.8H215.63V348.25H216.88V347.8H216.88V347.8H219.39V347.8H219.39V347.8H221.13V347.8H221.13V347.8H222.41V347.8H222.41V347.8H223.84V347.8H223.84V348.25H226.02V347.8H227.22V347.1H228.56V347.8H228.56V347.8H230.48V347.8H230.48V347.8H231.73V347.8H231.73V347.35H234.04V347.8H234.04V347.18H235.83V347.8H235.83V347.35H239.13V347.8H239.13V347.8H240.57V347.8H240.57V347.35H241.71V347.8H241.71V347.8H244.91V347.8H245.72V347.15H246.91V347.8H246.91V347.8H250.63V347.8H250.63V347.8H254.11V347.8H255.58V346.83H256.88V347.8H256.88V347.8H258.14V347.8H258.14V348.25H259.54V347.8H259.54V347.35H261.42V347.8H261.42V348.37H264.03V347.8H264.03V347.8H266.14V347.8H266.14V348.41H269.35V347.8H269.35V347.8H272.23V347.8H272.23V347.8H274.4V347.8H274.4V348.74H277.79V347.8H277.79V347.8H280.16V347.8H280.16V347.8H283.4V347.8H283.4V347.8H286.38V347.8H286.38V347.35H289.62V347.8H289.62V347.8H291.37V347.8H291.37V347.8H294.91V347.8H294.91V347.8H298.1V347.8H298.1V347.35H299.79V347.8H299.79V347.35H302.27V347.8H302.27V348.25H303.5V347.8H303.5V347.8H306.8V347.8H306.8V347.8H308.04V347.8H308.04V348.25H310.03V347.8H310.03V347.8H312.9V347.8H312.9V347.8H313.93V347.8H313.93V347.8H316.39V347.8H316.39V347.35H319.47V347.8H319.47V348.25H321.34V347.8H321.34V347.35H323.73V347.8H323.73V347.8H327.04V347.8H327.04V347.8H328.97V347.8H328.97V347.8H332.78V347.8H333.82V346.88H335.22V347.8H335.22V347.8H337.09V347.8H337.09V347.35H340.55V347.8H340.55V347.35H344.53V347.8H344.53V347.8H346.16V347.8H346.16V347.8H347.39V347.8H347.39V348.25H348.81V347.8H350.29V348.8H351.7V347.8H351.7V347.8H354.5V347.8H354.5V348.4H356.5V347.8H356.5V348.25H359.31V347.8H359.71V347.12H361.51V347.8H361.51V348.25H365.17V347.8H365.17V347.35H366.86V347.8H366.86V347.8H369.04V347.8H369.04V347.35H370.05V347.8H370.05V347.35H373.1V347.8H373.1V347.8H375V347.8H375V347.35H377.25V347.8H377.25V348.25H379.2V347.8H379.2V348.25H380.21V347.8H380.21V347.8H383.72V347.8H383.72V347.8H387.54V347.8H387.54V348.25H390.68V347.8H390.68V347.8H392.44V347.8H392.44V347.8H394.62V347.8H394.62V347.35H396.7V347.8H396.7V347.8H399.97V347.8H401.2V348.52H403.05V347.8H403.05V347.8H404.89V347.8H404.89V348.25H408.39V347.8H408.39V347.8H411.3V347.8H411.3V348.25H413.05V347.8H413.05V348.25H415.35V347.8H415.35V348.25H416.92V347.8H416.92V347.35H420.28V347.8H420.28V347.35H423.93V347.8H423.93V347.8H427.67V347.8H427.67V347.8H430.83V347.8H430.83V347.35H434.63V347.8H434.63V347.8H436.98V347.8H436.98V348.25H438.5V347.8H438.5V296.3H438.5V296.3H441.44V296.3H441.44V295.85H443.21V296.3H443.21V296.3H446.99V296.3H446.99V296.75H449.47V296.3H449.47V296.75H452.62V296.3H452.62V296.3H454.34V296.3H454.34V295.61H457.2V296.3H457.2V296.75H458.22V296.3H458.22V296.3H461.44V296.3H461.44V296.3H463.06V296.3H463.06V296.3H464.99V296.3H464.99V296.3H466.68V296.3H466.68V296.75H468.48V296.3H468.48V295.85H469.81V296.3H469.81V296.3H472.64V296.3H472.64V296.3H475.09V296.3H475.09V296.3H478.94V296.3H479.95V295.55H481.8V296.3H481.8V296.3H485.57V296.3H485.57V296.3H487.2V296.3H487.2V296.3H489.45V296.3H489.45V295.85H491V296.3H491V296.75H494.7V296.3H494.7V296.3H497.9V296.3H497.9V296.75H500.68V296.3H500.68V296.86H503.12V296.3H503.12V295.85H504.69V296.3H504.69V295.85H505.78V296.3H505.78V296.75H509.3V296.3H509.3V296.3H511.63V296.3H511.63V296.75H512.64V296.3H512.64V295.85H513.88V296.3H513.88V296.3H517.75V296.3H517.75V296.3H520.43V296.3H520.43V296.75H522.57V296.3H522.57V295.85H524.4V296.3H524.4V295.4H526.66V296.3H526.66V295.85H527.93V296.3H527.93V295.85H529.51V296.3H529.51V296.75H531.09V296.3H531.09V295.85H534.3V296.3H534.3V295.85H535.4V296.3H535.4V295.85H537.14V296.3H537.14V296.3H538.26V296.3H539V295.66H542.12V296.3H542.12V296.3H544.51V296.3H544.51V296.3H546.28V296.3H546.28V296.75H549.98V296.3H549.98V296.75H552.07V296.3H552.07V296.3H555.94V296.3H555.98V297.12H557.6V296.3H557.6V296.75H559.39V296.3H559.39V296.75H563.16V296.3H563.92V297.22H566V296.3H566V296.3H567.01V296.3H567.01V296.3H568.08V296.3H568.08V295.85H569.41V296.3H569.41V295.85H573.27V296.3H573.27V295.85H576.01V296.3H576.01V295.74H579.19V296.3H579.19V296.3H582.64V296.3H582.64V296.3H586.42V296.3H586.42V296.75H587.45V296.3H587.45V296.3H590.92V296.3H590.92V296.75H593.47V296.3H593.47V297.28H595.53V296.3H595.53V295.85H599.12V296.3H599.77V295.6H601.99V296.3H601.99V296.3H604.08V296.3H604.08V295.85H606.61V296.3H606.61V296.3H609.87V296.3H609.87V296.3H612.1V296.3H612.1V296.75H614.54V296.3H614.54V295.85H616.02V296.3H616.26V295.37H619.58V296.3H619.58V296.3H623.02V296.3H623.02V295.41H626.45V296.3H626.45V296.3H628.24V296.3H628.24V295.85H629.87V296.3H629.87V295.85H632.37V296.3H632.37V296.3H633.88V296.3H633.89V295.54H635.45V296.3H635.45V296.3H637.7V296.3H637.91V295.45H640.62V296.3H640.62V296.3H643.75V296.3H643.75V296.84H646.87V296.3H646.87V296.75H650.21V296.3H650.21V296.75H652.09V296.3H652.09V296.75H654.21V296.3H655.64V295.41H658.58V296.3H658.58V296.3H660.18V296.3H660.18V296.3H661.74V296.3H661.74V296.3H663.2V296.3H663.2V295.85H665.17V296.3H665.17V296.3H666.93V296.3H666.93V296.3H669.45V296.3H669.68V295.48H671.26V296.3H671.26V296.3H674.21V296.3H674.21V296.3H677.17V296.3H677.78V295.49H679.54V296.3H679.54V295.85H680.85V296.3H680.85V296.3H684.5V296.3H684.5V296.75H688.02V296.3H688.02V296.75H689.14V296.3H689.14V296.3H690.84V296.3H690.84V296.3H692.41V296.3H692.41V296.75H696.2V296.3H696.2V296.3H698.73V296.3H699.72V297.15H702.04V296.3H702.04V296.75H704.39V296.3H704.39V296.3H707.71V296.3H707.71V296.75H709.03V296.3H709.03V296.75H710.68V296.3H710.68V296.3H712.7V296.3H712.7V296.75H714.32V296.3H714.32V296.3H715.43V296.3H715.43V296.75H718.87V296.3H718.87V296.75H721.1V296.3H721.1V296.75H722.66V296.3H722.66V296.3H723.89V296.3H723.89V295.85H727.28V296.3H727.28V296.3H728.47V296.3H728.47V296.3H731.85V296.3H731.85V296.3H734.77V296.3H734.77V295.85H737.73V296.3H737.73V295.85H740.82V296.3H740.82V296.75H744.09V296.3H744.09V295.65H745.37V296.3H745.37V296.3H747.62V296.3H748.56V295.61H751.92V296.3H751.92V296.75H753.86V296.3H753.86V296.3H756.03V296.3H756.03V295.8H757.59V296.3H757.59V296.75H761.18V296.3H761.18V295.85H764.11V296.3H764.11V296.3H767.3V296.3H767.3V295.85H771.12V296.3H771.12V295.85H774.83V296.3H774.83V296.3H776.17V296.3H776.17V296.75H778.39V296.3H778.39V296.3H780.77V296.3H780.77V296.3H782.16V296.3H782.16V295.85H784.81V296.3H784.81V296.75H786.08V296.3H786.08V296.3H788.52V296.3H788.52V296.94H790.86V296.3H790.86V296.75H792.3V296.3H792.3V296.3H793.78V296.3H793.78V296.3H797.56V296.3H798.05V295.56H799.84V296.3H799.84V296.3H801.99V296.3H801.99V296.3H803.9V296.3H803.9V295.85H807.82V296.3H807.82V295.85H809.77V296.3H809.77V296.3H811.03V296.3H811.03V296.3H813.95V296.3H813.95V296.3H816.81V296.3H816.81V296.3H820.3V296.3H821.35V295.79H822.94V296.3H822.94V296.3H825.63V296.3H825.63V296.3H827.83V296.3H827.83V296.3H829.98V296.3H829.98V296.3H831.43V296.3H831.43V296.3H832.56V296.3H832.56V296.75H835.56V296.3H835.56V295.85H836.91V296.3H836.91V296.75H839.56V296.3H839.56V296.75H842.51V296.3H842.51V295.85H845.26V296.3H845.26V296.75H847.43V296.3H847.43V295.85H849.77V296.3H849.84V295.65H851.87V296.3H851.87V296.3H853.4V296.3H853.4V295.85H856.26V296.3H856.26V295.85H858.65V296.3H858.65V295.85H861.95V296.3H861.95V295.85H865.45V296.3H865.45V296.3H867.66V296.3H869.04V297.24H870.09V296.3H870.09V295.85H871.48V296.3H871.48V295.85H873.57V296.3H873.57V296.3H876.08V296.3H876.08V296.3H877.21V296.3H877.21V296.75H878.45V296.3H878.45V296.3H881.79V296.3H881.79V295.85H882.95V296.3H882.95V296.3H885.91V296.3H885.91V296.3H886.98V296.3H886.98V296.3H890.97V296.3H890.97V295.85H892.55V296.3H892.55V296.3H894.42V296.3H894.42V296.3H897.48V296.3H897.48V296.75H898.67V296.3H898.67V296.75H901.5V296.3H901.5V296.75H902.98V296.3H902.98V295.85H906.7V296.3H906.7V295.85H908.13V296.3H908.13V296.75H909.75V296.3H909.75V296.3H912.6V296.3H912.6V296.3H914.56V296.3H914.56V295.85H916.15V296.3H917.5V347.8H917.5V347.8H918.6V347.8H918.6V347.35H920.47V347.8H920.47V348.25H922.73V347.8H922.73V347.8H926.41V347.8H926.41V347.8H928.88V347.8H928.88V347.8H929.95V347.8H929.95V348.25H932.65V347.8H932.65V348.25H933.97V347.8H933.97V347.35H936.57V347.8H936.57V347.8H939.32V347.8H939.32V347.35H940.93V347.8H940.93V347.8H942.41V347.8H942.84V347.17H945.29V347.8H945.29V347.8H949.1V347.8H949.99V348.67H952.33V347.8H952.33V347.35H955.45V347.8H955.45V347.8H956.74V347.8H956.74V348.25H960.35V347.8H960.35V348.25H962.56V347.8H962.56V347.8H966.46V347.8H966.46V348.25H969.4V347.8H969.4V347.35H972.18V347.8H972.18V347.35H974.99V347.8H974.99V347.8H976.73V347.8H976.73V347.8H977.86V347.8H977.86V347.8H980.08V347.8H980.77V348.8H982.69V347.8H982.69V347.8H984.17V347.8H984.17V347.8H985.21V347.8H985.21V347.8H986.64V347.8H986.64V347.35H989.19V347.8H989.19V347.8H992.63V347.8H992.63V347.8H995.16V347.8H995.16V347.8H997.06V347.8H997.06V347.35H1001.04V347.8H1001.04V347.8H1004.19V347.8H1004.19V347.35H1006.31V347.8H1007.26V348.47H1009.71V347.8H1009.71V347.35H1012.94V347.8H1012.94V347.35H1014.18V347.8H1014.18V347.8H1015.71V347.8H1015.71V347.8H1017.49V347.8H1017.49V348.25H1018.86V347.8H1018.86V348.25H1022V347.8H1022V347.35H1023.63V347.8H1023.63V347.21H1024.83V347.8H1024.83V348.25H1027.89V347.8H1027.89V347.8H1029.78V347.8H1030.35V347.15H1033.21V347.8H1033.21V347.8H1034.47V347.8H1034.47V347.8H1035.97V347.8H1035.97V347.8H1039.5V347.8H1039.5V348.25H1043.33V347.8H1043.33V347.35H1044.91V347.8H1044.91V347.8H1046.65V347.8H1046.65V348.62H1048.95V347.8H1048.95V347.35H1051.08V347.8H1051.08V347.8H1053.5V347.8H1053.5V347.35H1057.07V347.8H1057.07V347.8H1060.31V347.8H1060.31V346.84H1063.77V347.8H1063.77V348.25H1066.48V347.8H1066.48V347.35H1069.85V347.8H1070.14V347.3H1073.38V347.8H1073.38V347.8H1076.25V347.8H1076.25V347.8H1078.95V347.8H1078.95V347.8H1080.38V347.8H1080.38V347.8H1081.71V347.8H1081.71V347.8H1083.75V347.8H1084.6" stroke="#17a257" stroke-width="1.1" fill="none"/>
<path d="M47 347.6H63" stroke="#17a257" stroke-width="1.1"/>
<path d="M72.8 251.3H72.8V251.3H73.9V251.3H73.9V251.7H76.85V251.3H76.85V250.42H77.97V251.3H77.97V251.3H80.4V251.3H80.4V251.3H81.69V251.3H81.69V251.7H83.3V251.3H83.3V250.35H84.8V251.3H84.8V251.3H87.07V251.3H87.07V251.7H89.13V251.3H89.13V251.7H90.27V251.3H90.27V250.9H94V251.3H94V251.3H97.56V251.3H97.56V251.3H100.92V251.3H100.92V251.3H103.23V251.3H103.23V251.3H105.27V251.3H105.27V251.3H107.89V251.3H107.89V251.3H111.03V251.3H111.03V251.7H113.61V251.3H113.61V250.33H114.78V251.3H114.78V251.3H116.29V251.3H117.04V250.7H118.31V251.3H118.31V251.7H120.88V251.3H120.88V251.3H124.17V251.3H124.17V250.9H125.18V251.3H125.18V251.3H126.47V251.3H126.47V251.7H130.37V251.3H130.37V251.7H134.24V251.3H134.24V251.3H136.98V251.3H136.98V251.3H138.83V251.3H139.7V200.3H139.7V200.3H142.68V200.3H142.68V200.7H146.37V200.3H146.37V199.9H149.7V200.3H149.7V200.3H153.2V200.3H153.2V200.3H154.31V200.3H154.31V200.3H155.79V200.3H155.79V200.3H158.35V200.3H158.35V199.9H160.59V200.3H160.59V201.02H162.4V200.3H162.4V199.9H165.02V200.3H165.02V200.7H167.55V200.3H167.55V199.9H170.12V200.3H170.12V199.9H173.35V200.3H173.35V200.3H174.98V200.3H174.98V200.3H177.15V200.3H177.15V200.7H180.34V200.3H180.34V200.7H183.25V200.3H183.25V199.9H185.08V200.3H185.08V200.3H186.26V200.3H186.26V199.9H188.52V200.3H188.77V199.68H191.7V200.3H191.7V200.7H194.59V200.3H194.59V200.3H197.33V200.3H197.33V199.9H199V200.3H199V200.3H202.82V200.3H203.37V199.36H205.2V200.3H205.2V199.9H209.18V200.3H209.18V200.3H211.57V200.3H211.57V200.3H212.96V200.3H212.96V200.3H216.39V200.3H216.39V200.3H218.79V200.3H218.79V200.3H221.26V200.3H221.26V199.67H222.86V200.3H222.86V199.9H224.92V200.3H224.92V200.7H227.32V200.3H227.32V200.3H230.6V200.3H230.6V199.9H233.94V200.3H233.94V200.3H236.01V200.3H236.01V199.9H237.81V200.3H237.81V199.9H240.87V200.3H240.87V199.9H243.91V200.3H243.91V200.7H244.92V200.3H244.92V200.7H246.99V200.3H246.99V199.9H248.95V200.3H248.95V200.3H251.24V200.3H251.5V199.72H254.39V200.3H254.39V200.7H257.37V200.3H257.37V200.7H258.83V200.3H258.83V200.3H262.39V200.3H262.39V200.7H263.64V200.3H263.64V200.3H267V200.3H267V200.7H269.59V200.3H269.59V200.3H272.49V200.3H272.49V200.3H275.46V200.3H275.46V200.7H279.32V200.3H279.32V200.3H281.07V200.3H281.07V200.3H283.8V200.3H284.44V199.44H285.83V200.3H285.83V199.9H287.39V200.3H287.39V200.3H289.43V200.3H289.43V199.9H291.06V200.3H291.06V200.3H294.43V200.3H295.26V200.88H297.76V200.3H297.76V200.3H300.59V200.3H300.59V200.7H303.6V200.3H303.6V200.3H305.19V200.3H305.19V199.9H307.78V200.3H307.78V200.3H310.8V200.3H310.8V200.7H313.46V200.3H313.46V200.3H315.72V200.3H316.1V199.67H317.92V200.3H317.92V200.3H320.34V200.3H320.34V200.3H322.79V200.3H322.79V200.3H325.89V200.3H325.89V200.3H328.39V200.3H328.39V200.7H329.87V200.3H329.87V199.9H332.27V200.3H332.27V199.9H335.27V200.3H335.27V199.9H337.39V200.3H337.39V200.3H339.18V200.3H339.18V199.72H342.57V200.3H342.57V200.7H344.11V200.3H344.11V200.3H347.02V200.3H347.02V200.3H348.08V200.3H348.08V200.7H351.13V200.3H352.14V199.61H354.79V200.3H354.79V200.3H358.21V200.3H358.21V199.9H360.74V200.3H360.74V200.3H364.01V200.3H364.01V199.9H365.12V200.3H365.12V200.7H367.99V200.3H367.99V200.7H369.28V200.3H370.53V201.17H373.99V200.3H373.99V200.3H376.02V200.3H376.02V200.7H377.87V200.3H377.87V200.3H380.14V200.3H380.14V200.7H383.62V200.3H385V199.75H387.08V200.3H387.08V199.9H389.15V200.3H389.15V200.7H391.36V200.3H391.36V200.7H394.98V200.3H395.67V200.9H398.95V200.3H398.95V199.9H402.87V200.3H403.18V199.79H405.15V200.3H405.15V200.7H408.52V200.3H408.52V200.7H410.1V200.3H410.1V200.3H411.48V200.3H412.53V201.15H415.66V200.3H415.66V200.3H418.28V200.3H418.28V199.65H420.53V200.3H420.53V199.9H422.73V200.3H423.46V201.1H424.52V200.3H424.52V200.3H427.15V200.3H427.15V200.3H429.35V200.3H429.35V200.3H430.37V200.3H430.37V199.9H433.83V200.3H435.14V199.68H437.15V200.3H437.15V200.3H439.98V200.3H439.98V199.9H442.1V200.3H442.1V199.51H445.23V200.3H445.23V200.3H448.08V200.3H448.08V199.9H449.72V200.3H449.72V200.3H452.59V200.3H452.59V200.3H453.9V200.3H453.9V199.9H457.5V200.3H457.5V200.3H460.83V200.3H462.05V201.22H464.92V200.3H464.92V200.3H467.03V200.3H467.03V200.7H470.39V200.3H470.39V200.3H473.97V200.3H473.97V200.7H476.24V200.3H476.24V200.3H477.3V200.3H477.3V200.3H479.79V200.3H479.79V199.9H483.27V200.3H483.27V199.9H485.99V200.3H485.99V200.3H487.8V200.3H487.8V199.36H490.47V200.3H490.47V200.3H493.51V200.3H493.51V199.9H495.94V200.3H495.94V200.3H497.73V200.3H497.73V199.51H500.67V200.3H500.67V200.3H503.6V200.3H503.6V200.3H507.29V200.3H507.29V200.3H509.57V200.3H509.57V200.3H512.62V200.3H512.62V200.3H516.58V200.3H516.58V200.3H518.24V200.3H518.24V200.3H519.62V200.3H519.62V200.3H521.45V200.3H521.45V200.3H523.8V200.3H523.8V200.7H527.57V200.3H527.57V200.3H530.89V200.3H530.89V200.3H534.08V200.3H534.08V199.9H535.96V200.3H535.96V200.7H538.34V200.3H538.34V200.3H542.08V200.3H542.08V200.3H544.28V200.3H544.28V199.48H545.85V200.3H545.85V200.3H547.03V200.3H547.03V200.7H549.2V200.3H549.2V200.3H552.39V200.3H552.39V199.9H555.25V200.3H555.25V200.93H557.38V200.3H557.38V200.7H560.21V200.3H560.21V199.9H562.31V200.3H562.31V200.3H564.72V200.3H564.72V200.3H566.16V200.3H566.16V200.3H568.25V200.3H568.25V199.9H571.13V200.3H572.11V200.92H574.86V200.3H574.86V199.9H577.29V200.3H577.29V200.7H579.2V200.3H579.2V199.49H581.2V200.3H581.2V200.3H583.08V200.3H583.08V200.7H585.95V200.3H585.95V200.3H589.55V200.3H589.55V200.7H593.05V200.3H593.05V200.3H595.8V200.3H596.91V201.04H598.53V200.3H598.53V199.9H600.66V200.3H600.91V201.06H601.96V200.3H601.96V200.3H604.77V200.3H604.77V200.7H608.19V200.3H608.19V200.7H611.26V200.3H611.26V199.9H613.04V200.3H614V251.3H614V251.7H615.97V251.3H615.97V251.7H618.14V251.3H618.14V251.3H620.59V251.3H620.59V251.3H622.91V251.3H624.31V250.71H625.84V251.3H625.84V251.3H629.58V251.3H629.58V251.3H631.99V251.3H631.99V251.3H635.38V251.3H635.38V251.3H639.17V251.3H639.17V251.7H640.4V251.3H640.4V251.3H644.07V251.3H644.07V251.3H646.48V251.3H646.48V252.09H649.23V251.3H649.23V250.9H653.01V251.3H653.01V251.3H656.54V251.3H656.54V251.7H658.89V251.3H658.89V251.3H660.86V251.3H660.86V251.7H663.29V251.3H663.29V251.3H664.72V251.3H664.72V251.3H667.93V251.3H667.93V251.3H671.07V251.3H671.07V251.3H673.39V251.3H673.39V250.9H675.19V251.3H675.19V251.3H676.93V251.3H676.93V251.7H678.74V251.3H678.74V251.3H680.74V251.3H680.74V251.3H682.53V251.3H682.53V250.9H684.48V251.3H684.71V250.37H686.61V251.3H686.61V251.3H687.95V251.3H687.95V251.3H690.84V251.3H690.84V251.7H692.35V251.3H692.35V251.99H693.96V251.3H693.96V251.3H695.32V251.3H695.32V250.9H699.23V251.3H699.23V251.3H703.21V251.3H703.21V251.3H706.98V251.3H706.98V250.9H709.15V251.3H709.15V251.3H712.84V251.3H712.86V250.57H714.13V251.3H714.13V251.7H717.62V251.3H717.62V251.3H719.06V251.3H719.06V251.7H721.38V251.3H721.38V250.9H723.91V251.3H723.91V251.7H724.92V251.3H724.92V250.9H726.48V251.3H726.48V250.9H727.6V251.3H727.6V251.3H729.25V251.3H729.25V251.3H730.67V251.3H730.67V251.3H733.23V251.3H733.23V251.3H736.37V251.3H736.37V251.3H739.17V251.3H739.39V252.1H740.59V251.3H740.59V250.9H744.26V251.3H744.26V251.3H747.55V251.3H747.55V251.3H749.16V251.3H749.16V251.3H751.91V251.3H752.72V250.5H754.58V251.3H754.58V250.9H755.61V251.3H755.61V251.3H759.14V251.3H759.14V251.7H761.69V251.3H762.36V250.3H763.59V251.3H763.59V250.9H765.6V251.3H765.6V250.9H766.87V251.3H767.66V252.09H770.82V251.3H770.82V250.9H774.55V251.3H774.55V251.7H775.95V251.3H775.95V251.7H777.7V251.3H777.7V251.7H778.81V251.3H778.81V251.3H781.53V251.3H781.53V250.9H783.35V251.3H783.35V252.01H784.88V251.3H784.88V251.3H788.79V251.3H788.79V251.3H790.15V251.3H790.15V251.7H793.6V251.3H793.6V250.9H795.6V251.3H795.6V250.39H798.97V251.3H798.97V251.3H801.69V251.3H801.93V252.22H805.34V251.3H805.34V251.3H807.21V251.3H807.21V250.9H811.07V251.3H811.07V251.3H813.41V251.3H813.41V251.3H816V251.3H816V251.3H817.07V251.3H817.07V251.3H818.74V251.3H818.74V251.7H820.24V251.3H820.24V251.3H821.99V251.3H821.99V251.3H823.05V251.3H823.05V250.9H824.84V251.3H824.84V250.9H827.4V251.3H827.4V251.3H828.71V251.3H828.71V251.3H831.86V251.3H831.86V250.9H833.68V251.3H833.68V251.7H836.16V251.3H836.16V251.3H837.49V251.3H837.49V251.3H839.71V251.3H839.71V251.3H842.34V251.3H842.99V250.61H844.84V251.3H844.84V251.3H848.42V251.3H848.42V250.9H849.99V251.3H849.99V250.52H851.06V251.3H851.06V251.3H854.3V251.3H854.3V251.3H858.14V251.3H858.14V250.9H859.68V251.3H859.68V252.04H862.85V251.3H862.85V251.3H865.9V251.3H865.9V250.37H869.01V251.3H869.01V251.3H871.2V251.3H872.01V250.45H874.61V251.3H874.61V251.7H877.94V251.3H877.94V251.7H880.14V251.3H880.14V251.7H883.29V251.3H883.29V251.3H886.73V251.3H886.73V251.3H888.71V251.3H889.74V252.08H890.96V251.3H890.96V251.7H894.84V251.3H894.84V250.9H896.58V251.3H896.58V251.3H899.57V251.3H899.57V251.3H901.67V251.3H901.67V250.9H902.88V251.3H902.88V251.3H904.48V251.3H904.48V250.9H906.15V251.3H906.15V250.9H910.06V251.3H910.06V251.3H912.96V251.3H912.96V251.7H914.07V251.3H914.07V251.7H917.82V251.3H917.82V251.3H920.7V251.3H920.7V251.7H923.57V251.3H923.57V251.3H924.93V251.3H924.93V251.3H927.23V251.3H927.23V251.7H929.1V251.3H929.1V251.3H931.14V251.3H931.14V251.7H932.5V251.3H932.5V251.3H933.75V251.3H933.75V251.3H936.07V251.3H936.07V250.9H939.73V251.3H939.73V251.7H942.46V251.3H942.46V251.3H944.19V251.3H944.19V251.7H945.84V251.3H945.84V250.55H948.44V251.3H948.44V251.3H951.96V251.3H952.21V250.61H953.66V251.3H953.66V251.3H956.62V251.3H956.62V251.7H959.26V251.3H959.26V251.7H961.64V251.3H961.64V250.9H964.48V251.3H964.48V251.3H967.94V251.3H967.94V251.3H969.67V251.3H971.13V250.69H972.72V251.3H972.72V250.9H974.28V251.3H974.28V250.9H977.44V251.3H977.44V252.27H978.54V251.3H978.54V251.7H979.57V251.3H979.57V251.3H981.06V251.3H982.34V250.35H983.49V251.3H983.49V251.7H985.46V251.3H986.74V250.67H989.83V251.3H989.83V251.7H992.31V251.3H992.31V251.3H995.94V251.3H995.94V251.3H997.83V251.3H997.83V251.3H999.3V251.3H999.3V251.7H1002.12V251.3H1003.33V250.48H1005.61V251.3H1005.61V251.3H1007.93V251.3H1007.93V250.9H1010.49V251.3H1010.49V251.3H1012.55V251.3H1012.55V251.3H1015.11V251.3H1015.11V251.7H1017.36V251.3H1017.36V251.3H1018.78V251.3H1018.78V251.7H1021.63V251.3H1021.63V251.3H1025.09V251.3H1025.09V250.9H1028.31V251.3H1029.68V250.75H1033.15V251.3H1033.15V251.3H1034.95V251.3H1034.95V251.3H1037.19V251.3H1037.19V251.3H1038.2V251.3H1038.2V251.3H1040.7V251.3H1040.7V251.7H1042.95V251.3H1043.47V250.33H1045.27V251.3H1045.27V251.3H1048.89V251.3H1048.89V250.9H1051.03V251.3H1051.03V251.7H1054.1V251.3H1054.1V251.7H1057.27V251.3H1057.27V250.9H1059.33V251.3H1059.33V251.3H1062.28V251.3H1062.28V250.9H1065.64V251.3H1065.64V251.7H1067.78V251.3H1068.67V252.09H1071.36V251.3H1071.36V251.7H1072.92V251.3H1072.92V250.9H1076.32V251.3H1076.7V250.75H1078.81V251.3H1078.81V251.3H1081.53V251.3H1081.53V251.7H1082.8V251.3H1082.8V251.3H1084.6V251.3H1084.6" stroke="#1e1ef2" stroke-width="1.15" fill="none"/>
<path d="M72.8 478.2H72.8V478.2H76.68V478.2H76.68V478.2H80.59V478.2H80.59V478.45H81.67V478.2H81.67V477.95H84.36V478.2H84.36V478.45H86.26V478.2H86.26V477.95H88.88V478.2H88.88V477.95H91.43V478.2H92V479H93.5V478.2H93.5V478.45H95.67V478.2H95.67V478.45H96.79V478.2H96.79V478.2H99.15V478.2H99.15V478.2H102.18V478.2H102.18V478.45H103.48V478.2H103.48V478.2H105.98V478.2H105.98V477.95H109.62V478.2H109.62V477.95H112.08V478.2H112.08V478.45H115.38V478.2H115.38V478.2H118.46V478.2H118.46V478.45H119.97V478.2H120V479H121.5V478.2H121.5V478.2H123.6V478.2H123.6V478.2H127.08V478.2H127.08V478.45H128.41V478.2H128.41V477.95H131.48V478.2H131.48V478.45H134.37V478.2H134.37V478.2H137.82V478.2H137.82V478.2H140.34V478.2H141V479H142.5V478.2H142.5V478.2H144.74V478.2H144.74V478.2H147.63V478.2H147.8V535.8L159.5 531V324.6L159.6 326V422.6L160.3 423V433L161.2 436L163 440.9L164.5 439L166.4 435.7L167.4 433V426.5L168.3 418.6L168.7 448.4L169.2 449V462L169.4 502.5L169.6 470L170 483L170.4 474L170.8 481L171.2 476.5L171.6 479.5L172.2 478.2H172.2V478.2H174.26V478.2H174.26V478.2H177.33V478.2H177.33V478.45H180.7V478.2H180.7V478.2H183.83V478.2H183.83V477.95H187.58V478.2H187.58V478.2H190V478.2H190V479H191.5V478.2H191.5V478.2H194.5V478.2H194.5V478.45H196.03V478.2H196.03V478.2H199.64V478.2H199.64V477.95H202.37V478.2H202.37V478.2H205.17V478.2H205.17V478.2H206.64V478.2H206.64V478.2H207.73V478.2H207.73V477.95H209.24V478.2H209.24V477.95H212.71V478.2H212.71V478.2H216.13V478.2H216.13V478.45H219.08V478.2H219.08V478.2H220.51V478.2H220.51V478.2H222.57V478.2H222.57V478.2H223.67V478.2H223.67V478.2H227.25V478.2H227.25V477.95H229.3V478.2H229.3V478.2H232.17V478.2H232.17V477.95H233.33V478.2H233.33V478.2H236.08V478.2H236.08V478.2H238.4V478.2H238.4V478.2H240.15V478.2H240.15V478.2H241.63V478.2H241.63V477.95H243.57V478.2H243.57V478.45H245.48V478.2H245.48V477.95H249.36V478.2H249.36V478.2H253.3V478.2H253.3V477.95H255.03V478.2H255.03V478.2H257V478.2H257V479H258.5V478.2H258.5V477.95H260.74V478.2H260.74V477.95H264.37V478.2H265V479H266.5V478.2H266.5V478.2H267.57V478.2H267.57V478.2H268.83V478.2H268.83V478.2H270.9V478.2H270.9V478.45H271.93V478.2H271.93V478.45H274.12V478.2H274.12V477.95H275.46V478.2H275.46V478.2H277.47V478.2H277.47V477.95H281.35V478.2H281.35V478.45H284.83V478.2H284.83V477.95H287.49V478.2H287.49V478.45H289.06V478.2H289.06V477.95H291.1V478.2H291.1V478.2H292.2V478.2H292.2V478.2H294.23V478.2H294.23V478.2H295.95V478.2H295.95V478.45H297.23V478.2H297.23V478.2H299.86V478.2H299.86V477.95H302.53V478.2H302.53V478.2H306.04V478.2H306.04V478.45H307.52V478.2H307.52V477.95H309.17V478.2H309.17V478.2H311.3V478.2H311.3V477.95H313.19V478.2H313.19V478.2H315V478.2H315V479H316.5V478.2H316.5V478.2H320.08V478.2H320.08V478.45H323.9V478.2H323.9V477.95H326.69V478.2H326.69V478.45H329.45V478.2H329.45V477.95H332.06V478.2H332.06V478.2H334.88V478.2H334.88V478.2H336.26V478.2H336.26V478.2H339.29V478.2H339.29V478.45H341.92V478.2H341.92V477.95H345.13V478.2H345.13V478.2H346.21V478.2H346.21V477.95H348.14V478.2H348.14V478.2H351.28V478.2H351.28V478.2H354.61V478.2H354.61V478.2H356.57V478.2H356.57V478.45H357.77V478.2H357.77V478.45H361.19V478.2H361.19V478.45H362.77V478.2H362.77V478.45H364.03V478.2H364.03V477.95H365.41V478.2H365.41V477.95H367.26V478.2H367.26V477.95H370.79V478.2H370.79V478.2H374.11V478.2H374.11V478.2H377.92V478.2H377.92V478.45H379.01V478.2H379.01V478.2H382.7V478.2H382.7V477.95H385.68V478.2H387V479.2H395V478.2H395V477.2H398V478.2H398V477.95H399.75V478.2H399.75V478.2H401.8V478.2H401.8V478.2H403.35V478.2H403.35V478.2H405.16V478.2H405.16V478.2H408.3V478.2H408.3V478.2H410.51V478.2H410.51V478.45H412.8V478.2H412.8V478.2H414.27V478.2H414.27V478.2H416.93V478.2H416.93V478.2H419.62V478.2H419.62V478.45H422.33V478.2H422.33V478.45H426.11V478.2H426.11V478.2H429.92V478.2H429.92V478.45H433.42V478.2H433.42V478.2H437.12V478.2H437.12V478.2H441.05V478.2H441.05V478.45H442.16V478.2H442.16V478.45H443.79V478.2H443.79V478.2H447.04V478.2H447.04V477.95H449.29V478.2H449.29V478.2H453.28V478.2H453.28V478.2H455.13V478.2H455.13V477.95H457.17V478.2H457.17V478.45H459.5V478.2H459.5V477.95H462.57V478.2H462.57V478.2H465.1V478.2H465.1V478.2H467.39V478.2H467.39V478.2H469.85V478.2H469.85V478.45H470.99V478.2H470.99V478.2H472.51V478.2H472.51V478.2H476.42V478.2H476.42V478.2H479.05V478.2H479.05V478.2H482.94V478.2H482.94V477.95H485.01V478.2H485.01V478.45H486.29V478.2H486.29V477.95H487.7V478.2H487.7V478.2H490.71V478.2H490.71V478.2H493.83V478.2H493.83V477.95H496.38V478.2H496.38V478.45H497.78V478.2H497.78V478.2H500V478.2H500V478.9H501.5V478.2H501.5V478.2H505.15V478.2H505.15V478.2H507.92V478.2H507.92V478.2H509.92V478.2H509.92V478.2H512.56V478.2H512.56V478.2H515.59V478.2H515.59V477.95H518.39V478.2H518.39V477.95H521.91V478.2H521.91V478.2H525.4V478.2H525.4V478.2H528.47V478.2H528.47V478.2H530.55V478.2H530.55V478.45H531.68V478.2H531.68V478.2H533.6V478.2H533.6V477.95H536.7V478.2H536.7V478.2H540.59V478.2H540.59V477.95H542.56V478.2H542.56V478.45H545.27V478.2H545.27V478.2H546.77V478.2H546.77V477.95H547.91V478.2H547.91V477.95H551.89V478.2H551.89V478.45H553.14V478.2H553.14V478.45H557.08V478.2H557.08V477.95H558.41V478.2H558.41V477.95H560V478.2H560V478.9H561.5V478.2H561.5V478.45H563.07V478.2H563.07V478.2H564.09V478.2H564.09V478.45H567.03V478.2H567.03V478.2H569.99V478.2H569.99V478.2H571.4V478.2H571.4V477.95H572.48V478.2H572.48V478.45H576V478.2H576V478.2H578.1V478.2H578.1V478.45H579.41V478.2H579.41V478.45H582.63V478.2H582.63V478.45H584.77V478.2H584.77V478.45H586.73V478.2H586.73V478.45H588.14V478.2H588.14V478.45H591.66V478.2H591.66V478.2H593.37V478.2H593.37V477.95H594.7V478.2H594.7V478.2H598.41V478.2H598.41V477.95H600.89V478.2H600.89V478.45H604.09V478.2H604.09V478.2H606.89V478.2H606.89V478.2H608.32V478.2H608.32V477.95H609.81V478.2H609.81V477.95H612.72V478.2H612.72V478.2H613.99V478.2H613.99V477.95H617.54V478.2H617.54V478.45H619.11V478.2H619.11V477.95H620.12V478.2H620.12V478.2H621.55V478.2H621.55V477.95H624.54V478.2H624.54V478.2H628.21V478.2H628.21V478.2H630.53V478.2H630.53V478.2H634V478.2H634V479.2H637V478.2H637V478.2H639.14V478.2H639.14V478.45H641.47V478.2H641.47V477.95H644.17V478.2H644.17V478.45H645.42V478.2H645.42V477.95H647.97V478.2H647.97V478.2H651.89V478.2H651.89V478.2H655.81V478.2H655.81V478.2H659.24V478.2H659.24V478.45H662.41V478.2H662.41V478.45H665.24V478.2H665.24V477.95H667.94V478.2H667.94V477.95H671.79V478.2H671.79V478.2H674.76V478.2H674.76V478.45H676.66V478.2H676.66V478.2H679.25V478.2H679.25V478.2H682.8V478.2H682.8V477.95H685.83V478.2H685.83V478.2H688.91V478.2H688.91V478.45H691.89V478.2H691.89V477.95H694.55V478.2H694.55V478.2H696.63V478.2H696.63V477.95H699.33V478.2H700V478.9H702V478.2H702V478.2H703.78V478.2H703.78V478.2H705.32V478.2H705.32V478.2H707.97V478.2H707.97V478.45H709.63V478.2H709.63V478.2H712.58V478.2H712.58V478.45H715.17V478.2H715.17V478.2H718.3V478.2H718.3V478.2H720.96V478.2H720.96V478.2H723.59V478.2H723.59V478.2H726.79V478.2H726.79V478.2H730.35V478.2H730.35V478.2H733.75V478.2H733.75V478.2H737.34V478.2H737.34V478.2H740.22V478.2H740.22V477.95H742.6V478.2H742.6V478.2H745.23V478.2H745.23V478.2H747.92V478.2H747.92V478.2H749.33V478.2H749.33V478.2H751.55V478.2H751.55V478.2H753.66V478.2H753.66V478.2H756.77V478.2H756.77V478.2H759.15V478.2H760V478.9H761.5V478.2H761.5V477.95H764.62V478.2H764.62V478.2H768.35V478.2H768.35V478.2H771.21V478.2H771.21V478.45H773.9V478.2H773.9V478.45H775.4V478.2H775.4V478.2H778.82V478.2H778.82V478.2H782.29V478.2H782.29V478.45H784.01V478.2H784.01V478.2H787.18V478.2H787.18V478.45H790.63V478.2H790.63V478.45H791.93V478.2H791.93V478.2H795.33V478.2H795.33V478.2H796.44V478.2H796.44V478.2H798.2V478.2H798.2V478.2H801.28V478.2H801.28V477.95H804.8V478.2H804.8V478.2H806.14V478.2H806.14V478.2H808.6V478.2H808.6V478.2H812V478.2H812V478.45H813.45V478.2H813.45V477.95H817.08V478.2H817.08V478.45H820.58V478.2H820.58V478.45H823.2V478.2H823.2V478.2H827.05V478.2H827.05V478.2H828.12V478.2H828.12V477.95H830.58V478.2H830.58V478.2H834.2V478.2H834.2V477.95H835.42V478.2H835.42V478.2H838.95V478.2H838.95V477.95H842.03V478.2H842.03V478.2H844.21V478.2H844.21V478.2H846.3V478.2H846.3V478.2H848.23V478.2H848.23V478.2H851V478.2H851V478.45H852.63V478.2H852.63V478.45H855.81V478.2H855.81V477.95H858.54V478.2H860V479.2H864V478.2H864V478.45H866V478.2H866V479H868V478.2H868V477.95H869.02V478.2H869.02V478.2H871.02V478.2H871.02V478.2H872.77V478.2H872.77V478.2H875.66V478.2H875.66V478.45H877.48V478.2H877.48V478.45H878.67V478.2H878.67V478.2H880.74V478.2H880.74V478.2H884.71V478.2H884.71V478.2H888.46V478.2H888.46V477.95H892.08V478.2H892.08V478.2H894.98V478.2H894.98V478.45H897.06V478.2H897.06V478.2H900.44V478.2H900.44V478.2H904.06V478.2H904.06V478.45H907.11V478.2H907.11V478.45H910.99V478.2H910.99V478.2H914.21V478.2H914.21V477.95H916.26V478.2H916.26V478.45H918.27V478.2H918.27V477.95H921.28V478.2H921.28V478.2H923.79V478.2H923.79V478.45H927.22V478.2H927.22V478.2H928.67V478.2H928.67V477.95H929.7V478.2H929.7V477.95H931.91V478.2H931.91V478.45H934.62V478.2H934.62V478.2H938.41V478.2H938.41V478.45H939.84V478.2H940V478.9H941.5V478.2H941.5V478.45H943.26V478.2H943.26V478.2H944.48V478.2H944.48V478.2H947.23V478.2H947.23V478.45H949.98V478.2H949.98V477.95H952.72V478.2H952.72V477.95H954.79V478.2H954.79V478.2H957.96V478.2H957.96V478.45H961.47V478.2H961.47V478.45H965.17V478.2H965.17V478.2H968.86V478.2H968.86V478.45H972.14V478.2H972.14V478.2H973.85V478.2H973.85V477.95H975.51V478.2H975.51V478.45H977.85V478.2H977.85V478.2H981.44V478.2H981.44V478.2H983.03V478.2H983.03V478.2H986.92V478.2H986.92V478.45H988.16V478.2H988.16V478.2H991.32V478.2H991.32V478.2H992.88V478.2H992.88V478.2H995.8V478.2H995.8V478.45H997.44V478.2H997.44V478.2H1001.04V478.2H1001.04V477.95H1003.99V478.2H1003.99V478.45H1006.82V478.2H1006.82V477.95H1008.34V478.2H1008.34V478.2H1010V478.2H1010V478.9H1011.5V478.2H1011.5V478.45H1014.38V478.2H1014.38V477.95H1017.71V478.2H1017.71V477.95H1019.48V478.2H1019.48V478.2H1023.1V478.2H1023.1V478.45H1026.87V478.2H1026.87V478.45H1028.04V478.2H1028.04V478.2H1029.51V478.2H1029.51V478.2H1030.98V478.2H1030.98V478.2H1033.57V478.2H1033.57V478.45H1035.64V478.2H1035.64V478.2H1037.91V478.2H1037.91V478.45H1040.88V478.2H1040.88V478.45H1042.57V478.2H1042.57V477.95H1046.01V478.2H1046.01V478.45H1049.3V478.2H1049.3V477.95H1052.26V478.2H1052.26V478.45H1054.94V478.2H1054.94V478.45H1057.51V478.2H1057.51V478.2H1058.9V478.2H1058.9V478.2H1061.58V478.2H1061.58V478.45H1064.54V478.2H1064.54V478.2H1066V478.2H1066V478.2H1068.2V478.2H1068.2V478.2H1072.01V478.2H1072.01V478.2H1073.38V478.2H1073.38V478.2H1076.04V478.2H1076.04V478.45H1077.82V478.2H1077.82V478.2H1081.03V478.2H1081.03V478.2H1084.6V478.2H1084.6" stroke="#f53a4c" stroke-width="1.1" fill="none" stroke-linejoin="miter"/>
<path d="M1128.5 538.7H1146" stroke="#f53a4c" stroke-width="1.1"/>
<rect x="0" y="112" width="1156" height="1.6" fill="#000"/>
<rect x="0.6" y="112" width="2.1" height="474.8" fill="#000"/>
<rect x="0" y="112" width="0.6" height="474.8" fill="#555"/>
<rect x="1154" y="112" width="2" height="474.8" fill="#000"/>
<text x="35.5" y="126.2" fill="#3c3cf4" stroke="#3c3cf4" stroke-width="0.2" text-anchor="end" font-size="10.67">12.0</text>
<text x="35.5" y="143" fill="#3c3cf4" stroke="#3c3cf4" stroke-width="0.2" text-anchor="end" font-size="10.67">V</text>
<text x="35.3" y="169.69" fill="#3c3cf4" stroke="#3c3cf4" stroke-width="0.2" text-anchor="end" font-size="10.67">8.0</text>
<text x="35.3" y="212.54" fill="#3c3cf4" stroke="#3c3cf4" stroke-width="0.2" text-anchor="end" font-size="10.67">4.0</text>
<text x="35.3" y="255.38" fill="#3c3cf4" stroke="#3c3cf4" stroke-width="0.2" text-anchor="end" font-size="10.67">0.0</text>
<text x="35.3" y="298.23" fill="#3c3cf4" stroke="#3c3cf4" stroke-width="0.2" text-anchor="end" font-size="10.67">-4.0</text>
<text x="35.3" y="341.07" fill="#3c3cf4" stroke="#3c3cf4" stroke-width="0.2" text-anchor="end" font-size="10.67">-8.0</text>
<text x="35.3" y="383.92" fill="#3c3cf4" stroke="#3c3cf4" stroke-width="0.2" text-anchor="end" font-size="10.67">-12.0</text>
<text x="35.3" y="426.76" fill="#3c3cf4" stroke="#3c3cf4" stroke-width="0.2" text-anchor="end" font-size="10.67">-16.0</text>
<text x="35.3" y="469.61" fill="#3c3cf4" stroke="#3c3cf4" stroke-width="0.2" text-anchor="end" font-size="10.67">-20.0</text>
<text x="70.8" y="136.6" fill="#34ad70" stroke="#34ad70" stroke-width="0.2" text-anchor="end" font-size="10.67">20.0</text>
<text x="70.2" y="153" fill="#34ad70" stroke="#34ad70" stroke-width="0.2" text-anchor="end" font-size="10.67">V</text>
<text x="70.8" y="212.54" fill="#34ad70" stroke="#34ad70" stroke-width="0.2" text-anchor="end" font-size="10.67">12.99</text>
<text x="70.8" y="255.38" fill="#34ad70" stroke="#34ad70" stroke-width="0.2" text-anchor="end" font-size="10.67">8.99</text>
<text x="70.8" y="298.23" fill="#34ad70" stroke="#34ad70" stroke-width="0.2" text-anchor="end" font-size="10.67">4.99</text>
<text x="70.8" y="341.07" fill="#34ad70" stroke="#34ad70" stroke-width="0.2" text-anchor="end" font-size="10.67">0.99</text>
<text x="70.8" y="383.92" fill="#34ad70" stroke="#34ad70" stroke-width="0.2" text-anchor="end" font-size="10.67">-3.01</text>
<text x="70.8" y="426.76" fill="#34ad70" stroke="#34ad70" stroke-width="0.2" text-anchor="end" font-size="10.67">-7.01</text>
<text x="70.8" y="469.61" fill="#34ad70" stroke="#34ad70" stroke-width="0.2" text-anchor="end" font-size="10.67">-11.01</text>
<text x="70.8" y="512.46" fill="#34ad70" stroke="#34ad70" stroke-width="0.2" text-anchor="end" font-size="10.67">-15.01</text>
<text x="70.8" y="555.3" fill="#34ad70" stroke="#34ad70" stroke-width="0.2" text-anchor="end" font-size="10.67">-19.01</text>
<text x="1087.7" y="126.2" fill="#cca54a" stroke="#cca54a" stroke-width="0.2" text-anchor="start" font-size="10.67">15.48</text>
<text x="1087.7" y="143" fill="#cca54a" stroke="#cca54a" stroke-width="0.2" text-anchor="start" font-size="10.67">V</text>
<text x="1087.7" y="169.69" fill="#cca54a" stroke="#cca54a" stroke-width="0.2" text-anchor="start" font-size="10.67">11.48</text>
<text x="1087.7" y="212.54" fill="#cca54a" stroke="#cca54a" stroke-width="0.2" text-anchor="start" font-size="10.67">7.477</text>
<text x="1087.7" y="255.38" fill="#cca54a" stroke="#cca54a" stroke-width="0.2" text-anchor="start" font-size="10.67">3.477</text>
<text x="1087.7" y="298.23" fill="#cca54a" stroke="#cca54a" stroke-width="0.2" text-anchor="start" font-size="10.67">-0.523</text>
<text x="1087.7" y="341.07" fill="#cca54a" stroke="#cca54a" stroke-width="0.2" text-anchor="start" font-size="10.67">-4.523</text>
<text x="1087.7" y="383.92" fill="#cca54a" stroke="#cca54a" stroke-width="0.2" text-anchor="start" font-size="10.67">-8.523</text>
<text x="1087.7" y="426.76" fill="#cca54a" stroke="#cca54a" stroke-width="0.2" text-anchor="start" font-size="10.67">-12.52</text>
<text x="1087.7" y="469.61" fill="#cca54a" stroke="#cca54a" stroke-width="0.2" text-anchor="start" font-size="10.67">-16.52</text>
<text x="1087.7" y="506.5" fill="#cca54a" stroke="#cca54a" stroke-width="0.2" text-anchor="start" font-size="10.67">-20.0</text>
<text x="1122.5" y="305.5" fill="#fb4a66" stroke="#fb4a66" stroke-width="0.2" text-anchor="start" font-size="10.67">V</text>
<text x="1122.5" y="328.3" fill="#fb4a66" stroke="#fb4a66" stroke-width="0.2" text-anchor="start" font-size="10.67">50.0</text>
<text x="1122.5" y="383.92" fill="#fb4a66" stroke="#fb4a66" stroke-width="0.2" text-anchor="start" font-size="10.67">37.06</text>
<text x="1122.5" y="426.76" fill="#fb4a66" stroke="#fb4a66" stroke-width="0.2" text-anchor="start" font-size="10.67">27.06</text>
<text x="1122.5" y="469.61" fill="#fb4a66" stroke="#fb4a66" stroke-width="0.2" text-anchor="start" font-size="10.67">17.06</text>
<text x="1122.5" y="512.46" fill="#fb4a66" stroke="#fb4a66" stroke-width="0.2" text-anchor="start" font-size="10.67">7.062</text>
<text x="1122.5" y="554.3" fill="#fb4a66" stroke="#fb4a66" stroke-width="0.2" text-anchor="start" font-size="10.67">-2.938</text>
<text x="72.7" y="567.9" fill="#222" stroke="#222" stroke-width="0.2" text-anchor="middle" font-size="10.67">31.34</text>
<text x="173.88" y="567.9" fill="#222" stroke="#222" stroke-width="0.2" text-anchor="middle" font-size="10.67">46.96</text>
<text x="275.06" y="567.9" fill="#222" stroke="#222" stroke-width="0.2" text-anchor="middle" font-size="10.67">62.59</text>
<text x="376.24" y="567.9" fill="#222" stroke="#222" stroke-width="0.2" text-anchor="middle" font-size="10.67">78.21</text>
<text x="477.42" y="567.9" fill="#222" stroke="#222" stroke-width="0.2" text-anchor="middle" font-size="10.67">93.84</text>
<text x="578.6" y="567.9" fill="#222" stroke="#222" stroke-width="0.2" text-anchor="middle" font-size="10.67">109.5</text>
<text x="679.78" y="567.9" fill="#222" stroke="#222" stroke-width="0.2" text-anchor="middle" font-size="10.67">125.1</text>
<text x="780.96" y="567.9" fill="#222" stroke="#222" stroke-width="0.2" text-anchor="middle" font-size="10.67">140.7</text>
<text x="882.14" y="567.9" fill="#222" stroke="#222" stroke-width="0.2" text-anchor="middle" font-size="10.67">156.3</text>
<text x="983.32" y="567.9" fill="#222" stroke="#222" stroke-width="0.2" text-anchor="middle" font-size="10.67">172.0</text>
<text x="1085.9" y="567.9" fill="#222" stroke="#222" stroke-width="0.2" text-anchor="middle" font-size="10.67">187.6</text>
<rect x="4.5" y="120.5" width="6.8" height="6.8" fill="#0a0af0" stroke="#111" stroke-width="1"/>
<rect x="38.5" y="120.5" width="6.8" height="6.8" fill="#0a9a48" stroke="#111" stroke-width="1"/>
<rect x="1112.8" y="120.5" width="7" height="7" fill="#caa024" stroke="#111" stroke-width="1"/>
<rect x="1147.5" y="120.5" width="7" height="7" fill="#f42030" stroke="#111" stroke-width="1"/>
<rect x="69.2" y="547.8" width="7" height="7" fill="#fff" stroke="#333" stroke-width="1.2"/>
<circle cx="1084.8" cy="551.2" r="4.6" fill="#008585" stroke="#123" stroke-width="1"/>
<rect x="985" y="396.5" width="125.6" height="19.1" fill="#d0d0d0"/>
<rect x="986.6" y="398.2" width="122.3" height="15.5" fill="#a0a0a0"/>
<text x="988.3" y="410" fill="#fff" text-anchor="start" font-size="11" font-weight="bold">Zoom Overview</text>
<path d="M1085.7 404V401.9H1091.3V407.1H1089" stroke="#fff" stroke-width="1" fill="none"/>
<rect x="1085.2" y="401.2" width="6.6" height="1.8" fill="#fff"/>
<rect x="1082.7" y="404.7" width="5.6" height="5" stroke="#fff" stroke-width="1" fill="#a0a0a0"/>
<rect x="1082.2" y="404.2" width="6.6" height="1.8" fill="#fff"/>
<path d="M1097.6 402.1L1105.3 409.5M1105.3 402.1L1097.6 409.5" stroke="#fff" stroke-width="1.4" fill="none"/>
<rect x="4.6" y="574.4" width="31.4" height="11.5" fill="#8080ff"/>
<text x="20.3" y="583.3" fill="rgba(255,255,255,0.75)" text-anchor="middle" font-size="8.1">x1.0</text>
<rect x="39" y="574.4" width="31.5" height="11.5" fill="#80d0a8"/>
<text x="54.75" y="583.3" fill="rgba(255,255,255,0.75)" text-anchor="middle" font-size="8.1">x1.0</text>
<rect x="1086.2" y="574.4" width="31.5" height="11.5" fill="#dccb8c"/>
<text x="1101.95" y="583.3" fill="rgba(255,255,255,0.75)" text-anchor="middle" font-size="8.1">x1.0</text>
<rect x="1120.3" y="574.4" width="31.6" height="11.5" fill="#ff9398"/>
<text x="1136.1" y="583.3" fill="rgba(255,255,255,0.75)" text-anchor="middle" font-size="8.1">x1.0</text>
<text x="74.5" y="583.8" fill="#222" stroke="#222" stroke-width="0.2" text-anchor="start" font-size="10.67">ms</text>
<text x="102.3" y="583.8" fill="#222" stroke="#222" stroke-width="0.2" text-anchor="start" font-size="10.67">+9.0s</text>
</g>
</svg>
</div>
</body></html>
